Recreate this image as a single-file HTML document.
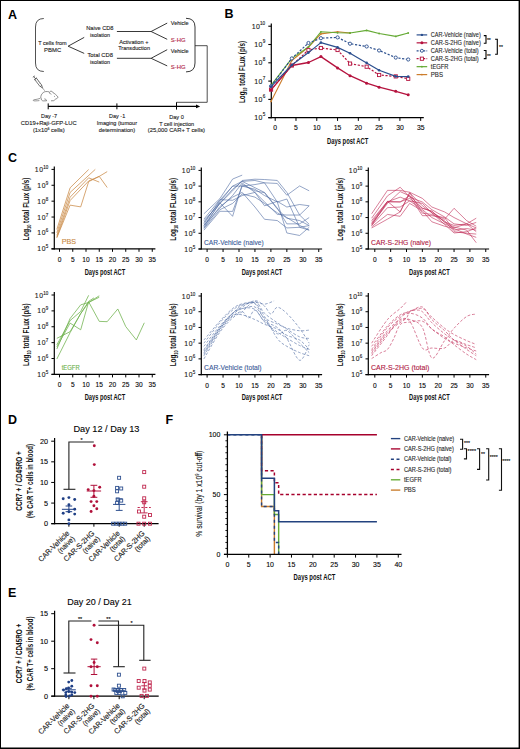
<!DOCTYPE html>
<html><head><meta charset="utf-8"><style>
html,body{margin:0;padding:0;background:#fff;}
svg{display:block;font-family:"Liberation Sans", sans-serif;}
</style></head><body>
<svg width="520" height="749" viewBox="0 0 520 749">
<rect width="520" height="749" fill="#fff"/>
<line x1="0.50" y1="0.00" x2="0.50" y2="749.00" stroke="#000" stroke-width="1"/>
<line x1="0.00" y1="0.50" x2="520.00" y2="0.50" stroke="#000" stroke-width="1"/>
<line x1="519.30" y1="0.00" x2="519.30" y2="749.00" stroke="#000" stroke-width="1.4"/>
<line x1="0.00" y1="748.30" x2="520.00" y2="748.30" stroke="#000" stroke-width="1.4"/>
<text x="8.00" y="18.70" font-size="12.5" fill="#000" font-weight="bold">A</text>
<text x="38.20" y="45.00" font-size="5.8" stroke="#222" stroke-width="0.12" fill="#222" textLength="28.50" lengthAdjust="spacingAndGlyphs">T cells from</text>
<text x="44.10" y="51.90" font-size="5.8" stroke="#222" stroke-width="0.12" fill="#222" textLength="17.10" lengthAdjust="spacingAndGlyphs">PBMC</text>
<text x="86.20" y="30.40" font-size="5.8" stroke="#222" stroke-width="0.12" fill="#222" textLength="27.30" lengthAdjust="spacingAndGlyphs">Naive CD8</text>
<text x="90.00" y="37.00" font-size="5.8" stroke="#222" stroke-width="0.12" fill="#222" textLength="20.00" lengthAdjust="spacingAndGlyphs">isolation</text>
<text x="87.40" y="56.80" font-size="5.8" stroke="#222" stroke-width="0.12" fill="#222" textLength="25.60" lengthAdjust="spacingAndGlyphs">Total CD8</text>
<text x="90.00" y="63.50" font-size="5.8" stroke="#222" stroke-width="0.12" fill="#222" textLength="20.00" lengthAdjust="spacingAndGlyphs">isolation</text>
<text x="119.20" y="43.50" font-size="5.8" stroke="#222" stroke-width="0.12" fill="#222" textLength="29.30" lengthAdjust="spacingAndGlyphs">Activation +</text>
<text x="118.20" y="50.00" font-size="5.8" stroke="#222" stroke-width="0.12" fill="#222" textLength="31.80" lengthAdjust="spacingAndGlyphs">Transduction</text>
<text x="170.80" y="25.10" font-size="5.8" stroke="#222" stroke-width="0.12" fill="#222" textLength="17.90" lengthAdjust="spacingAndGlyphs">Vehicle</text>
<text x="170.80" y="41.60" font-size="5.8" stroke="#b01e48" stroke-width="0.12" fill="#b01e48" textLength="14.80" lengthAdjust="spacingAndGlyphs">S-HG</text>
<text x="170.80" y="52.50" font-size="5.8" stroke="#222" stroke-width="0.12" fill="#222" textLength="17.90" lengthAdjust="spacingAndGlyphs">Vehicle</text>
<text x="170.80" y="69.30" font-size="5.8" stroke="#b01e48" stroke-width="0.12" fill="#b01e48" textLength="14.80" lengthAdjust="spacingAndGlyphs">S-HG</text>
<text x="49.00" y="118.20" font-size="5.8" stroke="#222" stroke-width="0.12" text-anchor="middle" fill="#222" textLength="16.10" lengthAdjust="spacingAndGlyphs">Day -7</text>
<text x="48.80" y="124.90" font-size="5.8" stroke="#222" stroke-width="0.12" text-anchor="middle" fill="#222" textLength="56.00" lengthAdjust="spacingAndGlyphs">CD19+Raji-GFP-LUC</text>
<text x="48.8" y="132.1" font-size="5.8" text-anchor="middle" fill="#222" textLength="31.8" lengthAdjust="spacingAndGlyphs" stroke="#222" stroke-width="0.12">(1x10<tspan font-size="3.6" dy="-2">6</tspan><tspan dy="2"> cells)</tspan></text>
<text x="117.10" y="118.20" font-size="5.8" stroke="#222" stroke-width="0.12" text-anchor="middle" fill="#222" textLength="16.20" lengthAdjust="spacingAndGlyphs">Day -1</text>
<text x="116.90" y="124.90" font-size="5.8" stroke="#222" stroke-width="0.12" text-anchor="middle" fill="#222" textLength="40.30" lengthAdjust="spacingAndGlyphs">Imaging (tumour</text>
<text x="117.00" y="132.10" font-size="5.8" stroke="#222" stroke-width="0.12" text-anchor="middle" fill="#222" textLength="36.30" lengthAdjust="spacingAndGlyphs">determination)</text>
<text x="176.50" y="118.60" font-size="5.8" stroke="#222" stroke-width="0.12" text-anchor="middle" fill="#222" textLength="14.60" lengthAdjust="spacingAndGlyphs">Day 0</text>
<text x="176.70" y="125.90" font-size="5.8" stroke="#222" stroke-width="0.12" text-anchor="middle" fill="#222" textLength="35.00" lengthAdjust="spacingAndGlyphs">T cell injection</text>
<text x="176.40" y="132.10" font-size="5.8" stroke="#222" stroke-width="0.12" text-anchor="middle" fill="#222" textLength="57.30" lengthAdjust="spacingAndGlyphs">(25,000 CAR+ T cells)</text>
<path d="M43.8,18.5 Q35.5,18.5 35.5,27 L35.5,63 Q35.5,71.5 43.8,71.5" stroke="#333" stroke-width="0.85" fill="none"/>
<path d="M186,18.3 Q195,18.3 195,27 L195,63 Q195,71.9 186,71.9" stroke="#222" stroke-width="0.9" fill="none"/>
<path d="M84.2,37.4 L68.1,46.2 L84.2,53.4" stroke="#222" stroke-width="0.9" fill="none"/>
<line x1="116.90" y1="31.50" x2="151.10" y2="31.50" stroke="#222" stroke-width="0.9"/>
<line x1="116.90" y1="58.30" x2="151.10" y2="58.30" stroke="#222" stroke-width="0.9"/>
<path d="M167.2,23.1 L151.1,31.5 L167.2,39.3" stroke="#222" stroke-width="0.9" fill="none"/>
<path d="M167.2,49.7 L151.1,58.3 L167.2,65.9" stroke="#222" stroke-width="0.9" fill="none"/>
<path d="M195,45.7 L207.2,45.7 L207.2,102.3 L176.5,102.3" stroke="#222" stroke-width="0.8" fill="none"/>
<line x1="48.20" y1="106.40" x2="197.00" y2="106.40" stroke="#000" stroke-width="1.2"/>
<path d="M196,104.6 L200.2,106.4 L196,108.2 Z" stroke="none" stroke-width="0" fill="#000"/>
<line x1="48.20" y1="103.40" x2="48.20" y2="109.30" stroke="#000" stroke-width="1.0"/>
<line x1="116.90" y1="103.40" x2="116.90" y2="109.30" stroke="#000" stroke-width="1.0"/>
<line x1="176.50" y1="102.30" x2="176.50" y2="109.60" stroke="#000" stroke-width="1.0"/>
<g transform="translate(33.6,76.3) rotate(52.5)"><rect x="3.2" y="-1.1" width="9" height="2.2" fill="none" stroke="#333" stroke-width="0.6"/><line x1="0" y1="0" x2="3.2" y2="0" stroke="#333" stroke-width="0.6"/><line x1="0.4" y1="-1.3" x2="0.4" y2="1.3" stroke="#333" stroke-width="0.6"/><line x1="3.2" y1="-1.6" x2="3.2" y2="1.6" stroke="#333" stroke-width="0.6"/><line x1="5" y1="-1.1" x2="5" y2="0" stroke="#333" stroke-width="0.35"/><line x1="7" y1="-1.1" x2="7" y2="0" stroke="#333" stroke-width="0.35"/><line x1="9" y1="-1.1" x2="9" y2="0" stroke="#333" stroke-width="0.35"/><path d="M12.2,-0.8 L14.6,-0.2 L14.6,0.2 L12.2,0.8" fill="none" stroke="#333" stroke-width="0.6"/><line x1="14.6" y1="0" x2="18.2" y2="0" stroke="#333" stroke-width="0.4"/></g>
<path d="M40.8,98.0 C40.6,95.8 41.6,93.8 43.2,92.6 C44.6,91.5 46.6,91.2 49.2,91.9" stroke="#444" stroke-width="0.6" fill="none"/>
<path d="M49.6,93.6 C49.2,92.2 50.0,91.1 51.2,91.2 C52.2,91.3 52.8,92.0 52.9,92.6" stroke="#444" stroke-width="0.6" fill="none"/>
<path d="M52.9,92.6 C54.6,93.4 56.6,95.2 57.9,96.9 C58.1,97.9 57.0,98.6 55.8,98.9 C55.0,99.6 54.4,100.4 53.6,100.7 L51.0,100.8" stroke="#444" stroke-width="0.6" fill="none"/>
<circle cx="54.6" cy="96.2" r="0.45" fill="#444"/>
<path d="M50.3,93.0 C50.6,93.8 51.2,94.3 51.3,94.8" stroke="#444" stroke-width="0.4" fill="none"/>
<path d="M41.3,98.2 C41.1,99.6 41.6,100.8 43.4,100.9 L46.6,100.8 C46.4,99.6 45.4,98.8 44.3,98.9" stroke="#444" stroke-width="0.6" fill="none"/>
<path d="M40.4,98.3 C38.6,99.3 35.6,99.3 33.8,99.8 C32.6,100.3 33.4,101.0 35.2,100.9 C36.8,100.8 38.0,100.8 39.4,100.6" stroke="#444" stroke-width="0.55" fill="none"/>
<text x="224.60" y="18.40" font-size="12.5" fill="#000" font-weight="bold">B</text>
<line x1="271.30" y1="23.50" x2="271.30" y2="118.20" stroke="#000" stroke-width="1.2"/>
<line x1="268.30" y1="117.60" x2="423.80" y2="117.60" stroke="#000" stroke-width="1.2"/>
<line x1="268.30" y1="117.70" x2="271.30" y2="117.70" stroke="#000" stroke-width="1.1"/>
<text x="265.20" y="120.10" font-size="7.0" text-anchor="end" fill="#1a1a1a" stroke="#1a1a1a" stroke-width="0.12">1<tspan dx="0.4">0</tspan><tspan font-size="4.6" dx="0.2" dy="-3.8">5</tspan></text>
<line x1="268.30" y1="99.40" x2="271.30" y2="99.40" stroke="#000" stroke-width="1.1"/>
<text x="265.20" y="101.80" font-size="7.0" text-anchor="end" fill="#1a1a1a" stroke="#1a1a1a" stroke-width="0.12">1<tspan dx="0.4">0</tspan><tspan font-size="4.6" dx="0.2" dy="-3.8">6</tspan></text>
<line x1="268.30" y1="81.10" x2="271.30" y2="81.10" stroke="#000" stroke-width="1.1"/>
<text x="265.20" y="83.50" font-size="7.0" text-anchor="end" fill="#1a1a1a" stroke="#1a1a1a" stroke-width="0.12">1<tspan dx="0.4">0</tspan><tspan font-size="4.6" dx="0.2" dy="-3.8">7</tspan></text>
<line x1="268.30" y1="62.80" x2="271.30" y2="62.80" stroke="#000" stroke-width="1.1"/>
<text x="265.20" y="65.20" font-size="7.0" text-anchor="end" fill="#1a1a1a" stroke="#1a1a1a" stroke-width="0.12">1<tspan dx="0.4">0</tspan><tspan font-size="4.6" dx="0.2" dy="-3.8">8</tspan></text>
<line x1="268.30" y1="44.50" x2="271.30" y2="44.50" stroke="#000" stroke-width="1.1"/>
<text x="265.20" y="46.90" font-size="7.0" text-anchor="end" fill="#1a1a1a" stroke="#1a1a1a" stroke-width="0.12">1<tspan dx="0.4">0</tspan><tspan font-size="4.6" dx="0.2" dy="-3.8">9</tspan></text>
<line x1="268.30" y1="26.20" x2="271.30" y2="26.20" stroke="#000" stroke-width="1.1"/>
<text x="265.20" y="28.60" font-size="7.0" text-anchor="end" fill="#1a1a1a" stroke="#1a1a1a" stroke-width="0.12">1<tspan dx="0.4">0</tspan><tspan font-size="4.6" dx="0.2" dy="-3.8">10</tspan></text>
<line x1="275.20" y1="117.60" x2="275.20" y2="120.90" stroke="#000" stroke-width="1.0"/>
<text x="275.20" y="130.30" font-size="6.8" stroke="#1a1a1a" stroke-width="0.12" text-anchor="middle">0</text>
<line x1="295.99" y1="117.60" x2="295.99" y2="120.90" stroke="#000" stroke-width="1.0"/>
<text x="295.99" y="130.30" font-size="6.8" stroke="#1a1a1a" stroke-width="0.12" text-anchor="middle">5</text>
<line x1="316.77" y1="117.60" x2="316.77" y2="120.90" stroke="#000" stroke-width="1.0"/>
<text x="316.77" y="130.30" font-size="6.8" stroke="#1a1a1a" stroke-width="0.12" text-anchor="middle">10</text>
<line x1="337.56" y1="117.60" x2="337.56" y2="120.90" stroke="#000" stroke-width="1.0"/>
<text x="337.56" y="130.30" font-size="6.8" stroke="#1a1a1a" stroke-width="0.12" text-anchor="middle">15</text>
<line x1="358.34" y1="117.60" x2="358.34" y2="120.90" stroke="#000" stroke-width="1.0"/>
<text x="358.34" y="130.30" font-size="6.8" stroke="#1a1a1a" stroke-width="0.12" text-anchor="middle">20</text>
<line x1="379.12" y1="117.60" x2="379.12" y2="120.90" stroke="#000" stroke-width="1.0"/>
<text x="379.12" y="130.30" font-size="6.8" stroke="#1a1a1a" stroke-width="0.12" text-anchor="middle">25</text>
<line x1="399.91" y1="117.60" x2="399.91" y2="120.90" stroke="#000" stroke-width="1.0"/>
<text x="399.91" y="130.30" font-size="6.8" stroke="#1a1a1a" stroke-width="0.12" text-anchor="middle">30</text>
<line x1="420.69" y1="117.60" x2="420.69" y2="120.90" stroke="#000" stroke-width="1.0"/>
<text x="420.69" y="130.30" font-size="6.8" stroke="#1a1a1a" stroke-width="0.12" text-anchor="middle">35</text>
<text x="347.70" y="143.50" font-size="9.3" text-anchor="middle" fill="#111" font-weight="bold" textLength="41.30" lengthAdjust="spacingAndGlyphs">Days post ACT</text>
<text transform="translate(244.8,72) rotate(-90)" font-size="8.8" font-weight="bold" text-anchor="middle" fill="#111" textLength="62" lengthAdjust="spacingAndGlyphs">Log<tspan font-size="5" dy="2">10</tspan><tspan dy="-2"> total FLux (p/s)</tspan></text>
<path d="M271.04,101.40 L291.83,60.50 L308.46,47.00 L320.93,33.90 L337.56,31.80 L350.03,33.00" stroke="#cc7d2c" stroke-width="1.1" fill="none" stroke-linejoin="round"/>
<circle cx="271.04" cy="101.40" r="0.9" fill="#cc7d2c"/>
<circle cx="291.83" cy="60.50" r="0.9" fill="#cc7d2c"/>
<circle cx="308.46" cy="47.00" r="0.9" fill="#cc7d2c"/>
<circle cx="320.93" cy="33.90" r="0.9" fill="#cc7d2c"/>
<circle cx="337.56" cy="31.80" r="0.9" fill="#cc7d2c"/>
<circle cx="350.03" cy="33.00" r="0.9" fill="#cc7d2c"/>
<path d="M271.04,85.30 L291.83,58.40 L308.46,47.00 L320.93,31.80 L337.56,32.80 L350.03,33.00 L366.65,30.40 L379.12,33.50 L395.75,36.40 L408.22,33.00" stroke="#65aa35" stroke-width="1.1" fill="none" stroke-linejoin="round"/>
<circle cx="271.04" cy="85.30" r="0.9" fill="#65aa35"/>
<circle cx="291.83" cy="58.40" r="0.9" fill="#65aa35"/>
<circle cx="308.46" cy="47.00" r="0.9" fill="#65aa35"/>
<circle cx="320.93" cy="31.80" r="0.9" fill="#65aa35"/>
<circle cx="337.56" cy="32.80" r="0.9" fill="#65aa35"/>
<circle cx="350.03" cy="33.00" r="0.9" fill="#65aa35"/>
<circle cx="366.65" cy="30.40" r="0.9" fill="#65aa35"/>
<circle cx="379.12" cy="33.50" r="0.9" fill="#65aa35"/>
<circle cx="395.75" cy="36.40" r="0.9" fill="#65aa35"/>
<circle cx="408.22" cy="33.00" r="0.9" fill="#65aa35"/>
<path d="M271.04,89.60 L291.83,65.50 L308.46,50.00 L320.93,48.00 L337.56,50.00 L350.03,63.60 L366.65,66.70 L379.12,75.00 L395.75,76.40 L408.22,78.80" stroke="#b5123e" stroke-width="1.2" fill="none" stroke-dasharray="2.2,1.6" stroke-linejoin="round"/>
<rect x="269.44" y="88.00" width="3.2" height="3.2" fill="#fff" stroke="#b5123e" stroke-width="0.9"/>
<rect x="290.23" y="63.90" width="3.2" height="3.2" fill="#fff" stroke="#b5123e" stroke-width="0.9"/>
<rect x="306.86" y="48.40" width="3.2" height="3.2" fill="#fff" stroke="#b5123e" stroke-width="0.9"/>
<rect x="319.33" y="46.40" width="3.2" height="3.2" fill="#fff" stroke="#b5123e" stroke-width="0.9"/>
<rect x="335.95" y="48.40" width="3.2" height="3.2" fill="#fff" stroke="#b5123e" stroke-width="0.9"/>
<rect x="348.43" y="62.00" width="3.2" height="3.2" fill="#fff" stroke="#b5123e" stroke-width="0.9"/>
<rect x="365.05" y="65.10" width="3.2" height="3.2" fill="#fff" stroke="#b5123e" stroke-width="0.9"/>
<rect x="377.52" y="73.40" width="3.2" height="3.2" fill="#fff" stroke="#b5123e" stroke-width="0.9"/>
<rect x="394.15" y="74.80" width="3.2" height="3.2" fill="#fff" stroke="#b5123e" stroke-width="0.9"/>
<rect x="406.62" y="77.20" width="3.2" height="3.2" fill="#fff" stroke="#b5123e" stroke-width="0.9"/>
<path d="M271.04,86.20 L291.83,58.40 L308.46,43.00 L320.93,38.20 L337.56,37.40 L350.03,43.70 L366.65,46.50 L379.12,50.50 L395.75,57.60 L408.22,59.50" stroke="#2b4f8e" stroke-width="1.2" fill="none" stroke-dasharray="2.2,1.6" stroke-linejoin="round"/>
<circle cx="271.04" cy="86.20" r="1.6" fill="#fff" stroke="#2b4f8e" stroke-width="0.9"/>
<circle cx="291.83" cy="58.40" r="1.6" fill="#fff" stroke="#2b4f8e" stroke-width="0.9"/>
<circle cx="308.46" cy="43.00" r="1.6" fill="#fff" stroke="#2b4f8e" stroke-width="0.9"/>
<circle cx="320.93" cy="38.20" r="1.6" fill="#fff" stroke="#2b4f8e" stroke-width="0.9"/>
<circle cx="337.56" cy="37.40" r="1.6" fill="#fff" stroke="#2b4f8e" stroke-width="0.9"/>
<circle cx="350.03" cy="43.70" r="1.6" fill="#fff" stroke="#2b4f8e" stroke-width="0.9"/>
<circle cx="366.65" cy="46.50" r="1.6" fill="#fff" stroke="#2b4f8e" stroke-width="0.9"/>
<circle cx="379.12" cy="50.50" r="1.6" fill="#fff" stroke="#2b4f8e" stroke-width="0.9"/>
<circle cx="395.75" cy="57.60" r="1.6" fill="#fff" stroke="#2b4f8e" stroke-width="0.9"/>
<circle cx="408.22" cy="59.50" r="1.6" fill="#fff" stroke="#2b4f8e" stroke-width="0.9"/>
<path d="M271.04,89.80 L291.83,65.50 L308.46,62.50 L320.93,56.60 L337.56,67.90 L350.03,75.70 L366.65,83.20 L379.12,87.20 L395.75,91.30 L408.22,94.80" stroke="#b5123e" stroke-width="1.3" fill="none" stroke-linejoin="round"/>
<circle cx="271.04" cy="89.80" r="1.5" fill="#b5123e"/>
<circle cx="291.83" cy="65.50" r="1.5" fill="#b5123e"/>
<circle cx="308.46" cy="62.50" r="1.5" fill="#b5123e"/>
<circle cx="320.93" cy="56.60" r="1.5" fill="#b5123e"/>
<circle cx="337.56" cy="67.90" r="1.5" fill="#b5123e"/>
<circle cx="350.03" cy="75.70" r="1.5" fill="#b5123e"/>
<circle cx="366.65" cy="83.20" r="1.5" fill="#b5123e"/>
<circle cx="379.12" cy="87.20" r="1.5" fill="#b5123e"/>
<circle cx="395.75" cy="91.30" r="1.5" fill="#b5123e"/>
<circle cx="408.22" cy="94.80" r="1.5" fill="#b5123e"/>
<path d="M271.04,86.60 L291.83,65.00 L308.46,52.60 L320.93,42.60 L337.56,47.40 L350.03,53.20 L366.65,62.90 L379.12,70.20 L395.75,76.40 L408.22,76.60" stroke="#2b4f8e" stroke-width="1.2" fill="none" stroke-linejoin="round"/>
<circle cx="271.04" cy="86.60" r="1.3" fill="#2b4f8e"/>
<circle cx="291.83" cy="65.00" r="1.3" fill="#2b4f8e"/>
<circle cx="308.46" cy="52.60" r="1.3" fill="#2b4f8e"/>
<circle cx="320.93" cy="42.60" r="1.3" fill="#2b4f8e"/>
<circle cx="337.56" cy="47.40" r="1.3" fill="#2b4f8e"/>
<circle cx="350.03" cy="53.20" r="1.3" fill="#2b4f8e"/>
<circle cx="366.65" cy="62.90" r="1.3" fill="#2b4f8e"/>
<circle cx="379.12" cy="70.20" r="1.3" fill="#2b4f8e"/>
<circle cx="395.75" cy="76.40" r="1.3" fill="#2b4f8e"/>
<circle cx="408.22" cy="76.60" r="1.3" fill="#2b4f8e"/>
<line x1="416.60" y1="34.90" x2="427.20" y2="34.90" stroke="#2b4f8e" stroke-width="1.2"/>
<circle cx="421.9" cy="34.9" r="1.2" fill="#2b4f8e"/>
<text x="430.80" y="37.30" font-size="6.7" stroke="#2a2a2a" stroke-width="0.12" fill="#2a2a2a" textLength="50.00" lengthAdjust="spacingAndGlyphs">CAR-Vehicle (naive)</text>
<line x1="416.60" y1="42.84" x2="427.20" y2="42.84" stroke="#b5123e" stroke-width="1.2"/>
<circle cx="421.9" cy="42.839999999999996" r="1.5" fill="#b5123e"/>
<text x="430.80" y="45.24" font-size="6.7" stroke="#2a2a2a" stroke-width="0.12" fill="#2a2a2a" textLength="50.00" lengthAdjust="spacingAndGlyphs">CAR-S-2HG (naive)</text>
<line x1="416.60" y1="50.78" x2="427.20" y2="50.78" stroke="#2b4f8e" stroke-width="1.2" stroke-dasharray="2,1.3"/>
<circle cx="421.9" cy="50.78" r="1.5" fill="#fff" stroke="#2b4f8e" stroke-width="0.9"/>
<text x="430.80" y="53.18" font-size="6.7" stroke="#2a2a2a" stroke-width="0.12" fill="#2a2a2a" textLength="47.90" lengthAdjust="spacingAndGlyphs">CAR-Vehicle (total)</text>
<line x1="416.60" y1="58.72" x2="427.20" y2="58.72" stroke="#b5123e" stroke-width="1.2" stroke-dasharray="2,1.3"/>
<rect x="420.3" y="57.12" width="3.2" height="3.2" fill="#fff" stroke="#b5123e" stroke-width="0.9"/>
<text x="430.80" y="61.12" font-size="6.7" stroke="#2a2a2a" stroke-width="0.12" fill="#2a2a2a" textLength="47.90" lengthAdjust="spacingAndGlyphs">CAR-S-2HG (total)</text>
<line x1="416.60" y1="66.66" x2="427.20" y2="66.66" stroke="#65aa35" stroke-width="1.2"/>
<circle cx="421.9" cy="66.66" r="0.9" fill="#65aa35"/>
<text x="430.80" y="69.06" font-size="6.7" stroke="#2a2a2a" stroke-width="0.12" fill="#2a2a2a" textLength="17.60" lengthAdjust="spacingAndGlyphs">tEGFR</text>
<line x1="416.60" y1="74.60" x2="427.20" y2="74.60" stroke="#cc7d2c" stroke-width="1.2"/>
<circle cx="421.9" cy="74.6" r="0.9" fill="#cc7d2c"/>
<text x="430.80" y="77.00" font-size="6.7" stroke="#2a2a2a" stroke-width="0.12" fill="#2a2a2a" textLength="12.20" lengthAdjust="spacingAndGlyphs">PBS</text>
<path d="M483.80,35.60 L486.00,35.60 L486.00,43.20 L483.80,43.20" stroke="#000" stroke-width="1.1" fill="none"/>
<path d="M483.80,50.50 L486.00,50.50 L486.00,58.60 L483.80,58.60" stroke="#000" stroke-width="1.1" fill="none"/>
<path d="M495.10,39.20 L497.30,39.20 L497.30,54.30 L495.10,54.30" stroke="#000" stroke-width="1.1" fill="none"/>
<text x="486.90" y="42.10" font-size="5.5" stroke="#000" stroke-width="0.12" fill="#000" textLength="3.90" lengthAdjust="spacingAndGlyphs">**</text>
<text x="486.90" y="57.50" font-size="5.5" stroke="#000" stroke-width="0.12" fill="#000" textLength="3.90" lengthAdjust="spacingAndGlyphs">**</text>
<text x="499.00" y="49.30" font-size="5.5" stroke="#000" stroke-width="0.12" fill="#000" textLength="3.90" lengthAdjust="spacingAndGlyphs">**</text>
<text x="8.00" y="162.30" font-size="12.5" fill="#000" font-weight="bold">C</text>
<path d="M56.85,229.43 L70.10,187.82 L88.65,169.56" stroke="#c98a45" stroke-width="0.75" fill="none" stroke-linejoin="round"/>
<path d="M56.85,232.76 L70.10,192.43 L95.28,169.40" stroke="#c98a45" stroke-width="0.75" fill="none" stroke-linejoin="round"/>
<path d="M56.85,235.46 L70.10,197.19 L88.65,177.82 L99.25,182.10" stroke="#c98a45" stroke-width="0.75" fill="none" stroke-linejoin="round"/>
<path d="M56.85,237.37 L70.10,200.52 L88.65,180.99 L99.25,176.39 L107.20,171.62" stroke="#c98a45" stroke-width="0.75" fill="none" stroke-linejoin="round"/>
<path d="M56.85,237.68 L70.10,205.13 L80.70,206.88 L88.65,181.63 L99.25,176.39 L107.20,187.50" stroke="#c98a45" stroke-width="0.75" fill="none" stroke-linejoin="round"/>
<line x1="54.30" y1="166.50" x2="54.30" y2="249.40" stroke="#000" stroke-width="1.2"/>
<line x1="51.50" y1="248.80" x2="155.40" y2="248.80" stroke="#000" stroke-width="1.2"/>
<line x1="51.50" y1="248.80" x2="54.30" y2="248.80" stroke="#000" stroke-width="1.0"/>
<text x="48.30" y="251.30" font-size="6.8" text-anchor="end" fill="#1a1a1a" stroke="#1a1a1a" stroke-width="0.12">1<tspan dx="0.7">0</tspan><tspan font-size="4.5" dx="0.2" dy="-3.0">5</tspan></text>
<line x1="51.50" y1="232.92" x2="54.30" y2="232.92" stroke="#000" stroke-width="1.0"/>
<text x="48.30" y="235.42" font-size="6.8" text-anchor="end" fill="#1a1a1a" stroke="#1a1a1a" stroke-width="0.12">1<tspan dx="0.7">0</tspan><tspan font-size="4.5" dx="0.2" dy="-3.0">6</tspan></text>
<line x1="51.50" y1="217.04" x2="54.30" y2="217.04" stroke="#000" stroke-width="1.0"/>
<text x="48.30" y="219.54" font-size="6.8" text-anchor="end" fill="#1a1a1a" stroke="#1a1a1a" stroke-width="0.12">1<tspan dx="0.7">0</tspan><tspan font-size="4.5" dx="0.2" dy="-3.0">7</tspan></text>
<line x1="51.50" y1="201.16" x2="54.30" y2="201.16" stroke="#000" stroke-width="1.0"/>
<text x="48.30" y="203.66" font-size="6.8" text-anchor="end" fill="#1a1a1a" stroke="#1a1a1a" stroke-width="0.12">1<tspan dx="0.7">0</tspan><tspan font-size="4.5" dx="0.2" dy="-3.0">8</tspan></text>
<line x1="51.50" y1="185.28" x2="54.30" y2="185.28" stroke="#000" stroke-width="1.0"/>
<text x="48.30" y="187.78" font-size="6.8" text-anchor="end" fill="#1a1a1a" stroke="#1a1a1a" stroke-width="0.12">1<tspan dx="0.7">0</tspan><tspan font-size="4.5" dx="0.2" dy="-3.0">9</tspan></text>
<line x1="51.50" y1="169.40" x2="54.30" y2="169.40" stroke="#000" stroke-width="1.0"/>
<text x="48.30" y="171.90" font-size="6.8" text-anchor="end" fill="#1a1a1a" stroke="#1a1a1a" stroke-width="0.12">1<tspan dx="0.7">0</tspan><tspan font-size="4.5" dx="0.2" dy="-3.0">10</tspan></text>
<line x1="59.50" y1="248.80" x2="59.50" y2="251.80" stroke="#000" stroke-width="1.0"/>
<text x="59.50" y="261.80" font-size="6.6" stroke="#1a1a1a" stroke-width="0.12" text-anchor="middle">0</text>
<line x1="72.75" y1="248.80" x2="72.75" y2="251.80" stroke="#000" stroke-width="1.0"/>
<text x="72.75" y="261.80" font-size="6.6" stroke="#1a1a1a" stroke-width="0.12" text-anchor="middle">5</text>
<line x1="86.00" y1="248.80" x2="86.00" y2="251.80" stroke="#000" stroke-width="1.0"/>
<text x="86.00" y="261.80" font-size="6.6" stroke="#1a1a1a" stroke-width="0.12" text-anchor="middle">10</text>
<line x1="99.25" y1="248.80" x2="99.25" y2="251.80" stroke="#000" stroke-width="1.0"/>
<text x="99.25" y="261.80" font-size="6.6" stroke="#1a1a1a" stroke-width="0.12" text-anchor="middle">15</text>
<line x1="112.50" y1="248.80" x2="112.50" y2="251.80" stroke="#000" stroke-width="1.0"/>
<text x="112.50" y="261.80" font-size="6.6" stroke="#1a1a1a" stroke-width="0.12" text-anchor="middle">20</text>
<line x1="125.75" y1="248.80" x2="125.75" y2="251.80" stroke="#000" stroke-width="1.0"/>
<text x="125.75" y="261.80" font-size="6.6" stroke="#1a1a1a" stroke-width="0.12" text-anchor="middle">25</text>
<line x1="139.00" y1="248.80" x2="139.00" y2="251.80" stroke="#000" stroke-width="1.0"/>
<text x="139.00" y="261.80" font-size="6.6" stroke="#1a1a1a" stroke-width="0.12" text-anchor="middle">30</text>
<line x1="152.25" y1="248.80" x2="152.25" y2="251.80" stroke="#000" stroke-width="1.0"/>
<text x="152.25" y="261.80" font-size="6.6" stroke="#1a1a1a" stroke-width="0.12" text-anchor="middle">35</text>
<text x="104.97" y="274.50" font-size="8.8" text-anchor="middle" fill="#111" font-weight="bold" textLength="40.60" lengthAdjust="spacingAndGlyphs">Days post ACT</text>
<text transform="translate(28.70,209.10) rotate(-90)" font-size="8.4" font-weight="bold" text-anchor="middle" fill="#111" textLength="62.8" lengthAdjust="spacingAndGlyphs">Log<tspan font-size="5" dy="2">10</tspan><tspan dy="-2"> total FLux (p/s)</tspan></text>
<text x="61.70" y="244.40" font-size="7.1" stroke="#c98a45" stroke-width="0.12" fill="#c98a45" textLength="14.40" lengthAdjust="spacingAndGlyphs">PBS</text>
<path d="M203.91,213.79 L219.86,198.70 L232.62,179.05 L242.19,175.12" stroke="#4d69a1" stroke-width="0.6" fill="none" stroke-linejoin="round"/>
<path d="M203.91,225.42 L219.86,203.41 L232.62,190.84 L242.19,180.46 L254.95,179.20 L264.52,179.52 L277.28,180.46 L286.85,192.41 L299.61,215.04 L309.18,224.32" stroke="#4d69a1" stroke-width="0.6" fill="none" stroke-linejoin="round"/>
<path d="M203.91,222.28 L219.86,201.84 L232.62,186.12 L242.19,181.40 L254.95,180.46 L264.52,182.82 L277.28,183.45 L286.85,195.24 L299.61,185.96 L309.18,190.84" stroke="#4d69a1" stroke-width="0.6" fill="none" stroke-linejoin="round"/>
<path d="M203.91,226.99 L219.86,202.78 L232.62,216.30 L242.19,184.55 L254.95,190.84 L264.52,192.72 L277.28,208.91 L286.85,218.19 L299.61,220.55 L309.18,225.58" stroke="#4d69a1" stroke-width="0.6" fill="none" stroke-linejoin="round"/>
<path d="M203.91,227.94 L219.86,206.56 L232.62,197.12 L242.19,192.41 L254.95,207.03 L264.52,219.29 L277.28,220.55 L286.85,227.94 L299.61,227.31 L309.18,225.58" stroke="#4d69a1" stroke-width="0.6" fill="none" stroke-linejoin="round"/>
<path d="M203.91,223.85 L219.86,200.27 L232.62,186.12 L242.19,186.12 L254.95,184.55 L264.52,182.82 L277.28,202.00 L286.85,199.01 L299.61,227.31 L309.18,230.14" stroke="#4d69a1" stroke-width="0.6" fill="none" stroke-linejoin="round"/>
<path d="M203.91,219.13 L219.86,199.64 L232.62,200.27 L242.19,195.55 L254.95,192.41 L264.52,205.77 L277.28,201.37 L286.85,207.03 L299.61,204.51 L309.18,205.77" stroke="#4d69a1" stroke-width="0.6" fill="none" stroke-linejoin="round"/>
<path d="M203.91,230.14 L219.86,211.27 L232.62,211.43 L242.19,186.12 L254.95,189.26 L264.52,195.55 L277.28,201.84 L286.85,232.97 L299.61,235.48 L309.18,227.31" stroke="#4d69a1" stroke-width="0.6" fill="none" stroke-linejoin="round"/>
<path d="M203.91,225.42 L219.86,208.13 L232.62,195.55 L242.19,182.98 L254.95,192.41 L264.52,201.84 L277.28,214.42 L286.85,215.04 L299.61,215.04 L309.18,205.77" stroke="#4d69a1" stroke-width="0.6" fill="none" stroke-linejoin="round"/>
<path d="M203.91,220.70 L219.86,203.41 L232.62,189.26 L242.19,181.40 L254.95,187.69 L264.52,192.41 L277.28,208.13 L286.85,223.85 L299.61,223.85 L309.18,217.56" stroke="#4d69a1" stroke-width="0.6" fill="none" stroke-linejoin="round"/>
<path d="M203.91,228.56 L219.86,209.70 L232.62,203.41 L242.19,193.98 L254.95,197.12 L264.52,203.41 L277.28,212.84 L286.85,217.56 L299.61,225.42 L309.18,230.14" stroke="#4d69a1" stroke-width="0.6" fill="none" stroke-linejoin="round"/>
<line x1="201.30" y1="167.50" x2="201.30" y2="249.60" stroke="#000" stroke-width="1.2"/>
<line x1="198.50" y1="249.00" x2="322.10" y2="249.00" stroke="#000" stroke-width="1.2"/>
<line x1="198.50" y1="249.00" x2="201.30" y2="249.00" stroke="#000" stroke-width="1.0"/>
<text x="195.30" y="251.50" font-size="6.8" text-anchor="end" fill="#1a1a1a" stroke="#1a1a1a" stroke-width="0.12">1<tspan dx="0.7">0</tspan><tspan font-size="4.5" dx="0.2" dy="-3.0">5</tspan></text>
<line x1="198.50" y1="233.28" x2="201.30" y2="233.28" stroke="#000" stroke-width="1.0"/>
<text x="195.30" y="235.78" font-size="6.8" text-anchor="end" fill="#1a1a1a" stroke="#1a1a1a" stroke-width="0.12">1<tspan dx="0.7">0</tspan><tspan font-size="4.5" dx="0.2" dy="-3.0">6</tspan></text>
<line x1="198.50" y1="217.56" x2="201.30" y2="217.56" stroke="#000" stroke-width="1.0"/>
<text x="195.30" y="220.06" font-size="6.8" text-anchor="end" fill="#1a1a1a" stroke="#1a1a1a" stroke-width="0.12">1<tspan dx="0.7">0</tspan><tspan font-size="4.5" dx="0.2" dy="-3.0">7</tspan></text>
<line x1="198.50" y1="201.84" x2="201.30" y2="201.84" stroke="#000" stroke-width="1.0"/>
<text x="195.30" y="204.34" font-size="6.8" text-anchor="end" fill="#1a1a1a" stroke="#1a1a1a" stroke-width="0.12">1<tspan dx="0.7">0</tspan><tspan font-size="4.5" dx="0.2" dy="-3.0">8</tspan></text>
<line x1="198.50" y1="186.12" x2="201.30" y2="186.12" stroke="#000" stroke-width="1.0"/>
<text x="195.30" y="188.62" font-size="6.8" text-anchor="end" fill="#1a1a1a" stroke="#1a1a1a" stroke-width="0.12">1<tspan dx="0.7">0</tspan><tspan font-size="4.5" dx="0.2" dy="-3.0">9</tspan></text>
<line x1="198.50" y1="170.40" x2="201.30" y2="170.40" stroke="#000" stroke-width="1.0"/>
<text x="195.30" y="172.90" font-size="6.8" text-anchor="end" fill="#1a1a1a" stroke="#1a1a1a" stroke-width="0.12">1<tspan dx="0.7">0</tspan><tspan font-size="4.5" dx="0.2" dy="-3.0">10</tspan></text>
<line x1="207.10" y1="249.00" x2="207.10" y2="252.00" stroke="#000" stroke-width="1.0"/>
<text x="207.10" y="262.00" font-size="6.6" stroke="#1a1a1a" stroke-width="0.12" text-anchor="middle">0</text>
<line x1="223.05" y1="249.00" x2="223.05" y2="252.00" stroke="#000" stroke-width="1.0"/>
<text x="223.05" y="262.00" font-size="6.6" stroke="#1a1a1a" stroke-width="0.12" text-anchor="middle">5</text>
<line x1="239.00" y1="249.00" x2="239.00" y2="252.00" stroke="#000" stroke-width="1.0"/>
<text x="239.00" y="262.00" font-size="6.6" stroke="#1a1a1a" stroke-width="0.12" text-anchor="middle">10</text>
<line x1="254.95" y1="249.00" x2="254.95" y2="252.00" stroke="#000" stroke-width="1.0"/>
<text x="254.95" y="262.00" font-size="6.6" stroke="#1a1a1a" stroke-width="0.12" text-anchor="middle">15</text>
<line x1="270.90" y1="249.00" x2="270.90" y2="252.00" stroke="#000" stroke-width="1.0"/>
<text x="270.90" y="262.00" font-size="6.6" stroke="#1a1a1a" stroke-width="0.12" text-anchor="middle">20</text>
<line x1="286.85" y1="249.00" x2="286.85" y2="252.00" stroke="#000" stroke-width="1.0"/>
<text x="286.85" y="262.00" font-size="6.6" stroke="#1a1a1a" stroke-width="0.12" text-anchor="middle">25</text>
<line x1="302.80" y1="249.00" x2="302.80" y2="252.00" stroke="#000" stroke-width="1.0"/>
<text x="302.80" y="262.00" font-size="6.6" stroke="#1a1a1a" stroke-width="0.12" text-anchor="middle">30</text>
<line x1="318.75" y1="249.00" x2="318.75" y2="252.00" stroke="#000" stroke-width="1.0"/>
<text x="318.75" y="262.00" font-size="6.6" stroke="#1a1a1a" stroke-width="0.12" text-anchor="middle">35</text>
<text x="262.03" y="274.70" font-size="8.8" text-anchor="middle" fill="#111" font-weight="bold" textLength="40.60" lengthAdjust="spacingAndGlyphs">Days post ACT</text>
<text transform="translate(175.70,209.30) rotate(-90)" font-size="8.4" font-weight="bold" text-anchor="middle" fill="#111" textLength="62.8" lengthAdjust="spacingAndGlyphs">Log<tspan font-size="5" dy="2">10</tspan><tspan dy="-2"> total FLux (p/s)</tspan></text>
<text x="204.00" y="244.60" font-size="7.1" stroke="#3d5c99" stroke-width="0.12" fill="#3d5c99" textLength="59.60" lengthAdjust="spacingAndGlyphs">CAR-Vehicle (naive)</text>
<path d="M371.63,213.79 L387.48,190.36 L400.16,190.36 L409.67,192.25 L422.35,198.38 L431.86,207.03 L444.54,211.90 L454.05,217.56 L466.73,223.85 L476.24,227.94" stroke="#bf2a55" stroke-width="0.6" fill="none" stroke-linejoin="round"/>
<path d="M371.63,218.19 L387.48,195.87 L400.16,187.22 L409.67,197.12 L422.35,202.00 L431.86,209.70 L444.54,216.93 L454.05,223.85 L466.73,225.42 L476.24,222.43" stroke="#bf2a55" stroke-width="0.6" fill="none" stroke-linejoin="round"/>
<path d="M371.63,220.55 L387.48,201.37 L400.16,211.90 L409.67,192.72 L422.35,205.77 L431.86,212.84 L444.54,219.29 L454.05,208.29 L466.73,220.70 L476.24,226.21" stroke="#bf2a55" stroke-width="0.6" fill="none" stroke-linejoin="round"/>
<path d="M371.63,222.43 L387.48,201.37 L400.16,201.84 L409.67,198.38 L422.35,208.29 L431.86,211.27 L444.54,221.80 L454.05,225.42 L466.73,223.85 L476.24,218.19" stroke="#bf2a55" stroke-width="0.6" fill="none" stroke-linejoin="round"/>
<path d="M371.63,224.32 L387.48,203.41 L400.16,191.62 L409.67,195.87 L422.35,215.67 L431.86,215.67 L444.54,217.56 L454.05,230.14 L466.73,228.56 L476.24,230.14" stroke="#bf2a55" stroke-width="0.6" fill="none" stroke-linejoin="round"/>
<path d="M371.63,225.58 L387.48,207.66 L400.16,207.03 L409.67,200.90 L422.35,203.41 L431.86,212.84 L444.54,224.32 L454.05,232.97 L466.73,231.71 L476.24,227.94" stroke="#bf2a55" stroke-width="0.6" fill="none" stroke-linejoin="round"/>
<path d="M371.63,226.83 L387.48,214.42 L400.16,216.30 L409.67,203.41 L422.35,210.80 L431.86,221.80 L444.54,226.21 L454.05,228.56 L466.73,234.07 L476.24,237.37" stroke="#bf2a55" stroke-width="0.6" fill="none" stroke-linejoin="round"/>
<path d="M371.63,227.94 L387.48,219.13 L400.16,211.90 L409.67,192.72 L422.35,213.16 L431.86,214.42 L444.54,220.70 L454.05,231.71 L466.73,233.28 L476.24,234.07" stroke="#bf2a55" stroke-width="0.6" fill="none" stroke-linejoin="round"/>
<path d="M371.63,225.42 L387.48,201.84 L400.16,197.12 L409.67,200.90 L422.35,209.54 L431.86,217.56 L444.54,223.85 L454.05,227.78 L466.73,223.85 L476.24,231.71" stroke="#bf2a55" stroke-width="0.6" fill="none" stroke-linejoin="round"/>
<path d="M371.63,223.85 L387.48,202.00 L400.16,202.00 L409.67,195.55 L422.35,208.13 L431.86,211.27 L444.54,222.28 L454.05,226.99 L466.73,230.14 L476.24,242.71" stroke="#bf2a55" stroke-width="0.6" fill="none" stroke-linejoin="round"/>
<line x1="368.30" y1="167.50" x2="368.30" y2="249.60" stroke="#000" stroke-width="1.2"/>
<line x1="365.50" y1="249.00" x2="489.10" y2="249.00" stroke="#000" stroke-width="1.2"/>
<line x1="365.50" y1="249.00" x2="368.30" y2="249.00" stroke="#000" stroke-width="1.0"/>
<text x="362.30" y="251.50" font-size="6.8" text-anchor="end" fill="#1a1a1a" stroke="#1a1a1a" stroke-width="0.12">1<tspan dx="0.7">0</tspan><tspan font-size="4.5" dx="0.2" dy="-3.0">5</tspan></text>
<line x1="365.50" y1="233.28" x2="368.30" y2="233.28" stroke="#000" stroke-width="1.0"/>
<text x="362.30" y="235.78" font-size="6.8" text-anchor="end" fill="#1a1a1a" stroke="#1a1a1a" stroke-width="0.12">1<tspan dx="0.7">0</tspan><tspan font-size="4.5" dx="0.2" dy="-3.0">6</tspan></text>
<line x1="365.50" y1="217.56" x2="368.30" y2="217.56" stroke="#000" stroke-width="1.0"/>
<text x="362.30" y="220.06" font-size="6.8" text-anchor="end" fill="#1a1a1a" stroke="#1a1a1a" stroke-width="0.12">1<tspan dx="0.7">0</tspan><tspan font-size="4.5" dx="0.2" dy="-3.0">7</tspan></text>
<line x1="365.50" y1="201.84" x2="368.30" y2="201.84" stroke="#000" stroke-width="1.0"/>
<text x="362.30" y="204.34" font-size="6.8" text-anchor="end" fill="#1a1a1a" stroke="#1a1a1a" stroke-width="0.12">1<tspan dx="0.7">0</tspan><tspan font-size="4.5" dx="0.2" dy="-3.0">8</tspan></text>
<line x1="365.50" y1="186.12" x2="368.30" y2="186.12" stroke="#000" stroke-width="1.0"/>
<text x="362.30" y="188.62" font-size="6.8" text-anchor="end" fill="#1a1a1a" stroke="#1a1a1a" stroke-width="0.12">1<tspan dx="0.7">0</tspan><tspan font-size="4.5" dx="0.2" dy="-3.0">9</tspan></text>
<line x1="365.50" y1="170.40" x2="368.30" y2="170.40" stroke="#000" stroke-width="1.0"/>
<text x="362.30" y="172.90" font-size="6.8" text-anchor="end" fill="#1a1a1a" stroke="#1a1a1a" stroke-width="0.12">1<tspan dx="0.7">0</tspan><tspan font-size="4.5" dx="0.2" dy="-3.0">10</tspan></text>
<line x1="374.80" y1="249.00" x2="374.80" y2="252.00" stroke="#000" stroke-width="1.0"/>
<text x="374.80" y="262.00" font-size="6.6" stroke="#1a1a1a" stroke-width="0.12" text-anchor="middle">0</text>
<line x1="390.65" y1="249.00" x2="390.65" y2="252.00" stroke="#000" stroke-width="1.0"/>
<text x="390.65" y="262.00" font-size="6.6" stroke="#1a1a1a" stroke-width="0.12" text-anchor="middle">5</text>
<line x1="406.50" y1="249.00" x2="406.50" y2="252.00" stroke="#000" stroke-width="1.0"/>
<text x="406.50" y="262.00" font-size="6.6" stroke="#1a1a1a" stroke-width="0.12" text-anchor="middle">10</text>
<line x1="422.35" y1="249.00" x2="422.35" y2="252.00" stroke="#000" stroke-width="1.0"/>
<text x="422.35" y="262.00" font-size="6.6" stroke="#1a1a1a" stroke-width="0.12" text-anchor="middle">15</text>
<line x1="438.20" y1="249.00" x2="438.20" y2="252.00" stroke="#000" stroke-width="1.0"/>
<text x="438.20" y="262.00" font-size="6.6" stroke="#1a1a1a" stroke-width="0.12" text-anchor="middle">20</text>
<line x1="454.05" y1="249.00" x2="454.05" y2="252.00" stroke="#000" stroke-width="1.0"/>
<text x="454.05" y="262.00" font-size="6.6" stroke="#1a1a1a" stroke-width="0.12" text-anchor="middle">25</text>
<line x1="469.90" y1="249.00" x2="469.90" y2="252.00" stroke="#000" stroke-width="1.0"/>
<text x="469.90" y="262.00" font-size="6.6" stroke="#1a1a1a" stroke-width="0.12" text-anchor="middle">30</text>
<line x1="485.75" y1="249.00" x2="485.75" y2="252.00" stroke="#000" stroke-width="1.0"/>
<text x="485.75" y="262.00" font-size="6.6" stroke="#1a1a1a" stroke-width="0.12" text-anchor="middle">35</text>
<text x="429.38" y="274.70" font-size="8.8" text-anchor="middle" fill="#111" font-weight="bold" textLength="40.60" lengthAdjust="spacingAndGlyphs">Days post ACT</text>
<text transform="translate(342.70,209.30) rotate(-90)" font-size="8.4" font-weight="bold" text-anchor="middle" fill="#111" textLength="62.8" lengthAdjust="spacingAndGlyphs">Log<tspan font-size="5" dy="2">10</tspan><tspan dy="-2"> total FLux (p/s)</tspan></text>
<text x="371.00" y="244.60" font-size="7.1" stroke="#b01a45" stroke-width="0.12" fill="#b01a45" textLength="60.00" lengthAdjust="spacingAndGlyphs">CAR-S-2HG (naive)</text>
<path d="M56.85,359.00 L70.10,332.64 L80.70,313.58 L88.65,302.46 L99.25,295.79" stroke="#6cb04a" stroke-width="0.75" fill="none" stroke-linejoin="round"/>
<path d="M56.85,338.35 L70.10,331.68 L80.70,313.58 L88.65,301.35 L93.95,297.86" stroke="#6cb04a" stroke-width="0.75" fill="none" stroke-linejoin="round"/>
<path d="M56.85,348.99 L70.10,318.50 L80.70,304.85 L88.65,302.46 L99.25,297.22" stroke="#6cb04a" stroke-width="0.75" fill="none" stroke-linejoin="round"/>
<path d="M56.85,346.93 L70.10,323.11 L80.70,329.78 L88.65,301.83 L99.25,321.36 L107.20,321.68 L117.80,308.97 L125.75,326.60 L136.35,339.94 L144.30,322.79" stroke="#6cb04a" stroke-width="0.75" fill="none" stroke-linejoin="round"/>
<path d="M56.85,344.86 L70.10,320.57 L80.70,311.52 L88.65,295.32" stroke="#6cb04a" stroke-width="0.75" fill="none" stroke-linejoin="round"/>
<line x1="54.30" y1="292.10" x2="54.30" y2="375.00" stroke="#000" stroke-width="1.2"/>
<line x1="51.50" y1="374.40" x2="155.40" y2="374.40" stroke="#000" stroke-width="1.2"/>
<line x1="51.50" y1="374.40" x2="54.30" y2="374.40" stroke="#000" stroke-width="1.0"/>
<text x="48.30" y="376.90" font-size="6.8" text-anchor="end" fill="#1a1a1a" stroke="#1a1a1a" stroke-width="0.12">1<tspan dx="0.7">0</tspan><tspan font-size="4.5" dx="0.2" dy="-3.0">5</tspan></text>
<line x1="51.50" y1="358.52" x2="54.30" y2="358.52" stroke="#000" stroke-width="1.0"/>
<text x="48.30" y="361.02" font-size="6.8" text-anchor="end" fill="#1a1a1a" stroke="#1a1a1a" stroke-width="0.12">1<tspan dx="0.7">0</tspan><tspan font-size="4.5" dx="0.2" dy="-3.0">6</tspan></text>
<line x1="51.50" y1="342.64" x2="54.30" y2="342.64" stroke="#000" stroke-width="1.0"/>
<text x="48.30" y="345.14" font-size="6.8" text-anchor="end" fill="#1a1a1a" stroke="#1a1a1a" stroke-width="0.12">1<tspan dx="0.7">0</tspan><tspan font-size="4.5" dx="0.2" dy="-3.0">7</tspan></text>
<line x1="51.50" y1="326.76" x2="54.30" y2="326.76" stroke="#000" stroke-width="1.0"/>
<text x="48.30" y="329.26" font-size="6.8" text-anchor="end" fill="#1a1a1a" stroke="#1a1a1a" stroke-width="0.12">1<tspan dx="0.7">0</tspan><tspan font-size="4.5" dx="0.2" dy="-3.0">8</tspan></text>
<line x1="51.50" y1="310.88" x2="54.30" y2="310.88" stroke="#000" stroke-width="1.0"/>
<text x="48.30" y="313.38" font-size="6.8" text-anchor="end" fill="#1a1a1a" stroke="#1a1a1a" stroke-width="0.12">1<tspan dx="0.7">0</tspan><tspan font-size="4.5" dx="0.2" dy="-3.0">9</tspan></text>
<line x1="51.50" y1="295.00" x2="54.30" y2="295.00" stroke="#000" stroke-width="1.0"/>
<text x="48.30" y="297.50" font-size="6.8" text-anchor="end" fill="#1a1a1a" stroke="#1a1a1a" stroke-width="0.12">1<tspan dx="0.7">0</tspan><tspan font-size="4.5" dx="0.2" dy="-3.0">10</tspan></text>
<line x1="59.50" y1="374.40" x2="59.50" y2="377.40" stroke="#000" stroke-width="1.0"/>
<text x="59.50" y="387.40" font-size="6.6" stroke="#1a1a1a" stroke-width="0.12" text-anchor="middle">0</text>
<line x1="72.75" y1="374.40" x2="72.75" y2="377.40" stroke="#000" stroke-width="1.0"/>
<text x="72.75" y="387.40" font-size="6.6" stroke="#1a1a1a" stroke-width="0.12" text-anchor="middle">5</text>
<line x1="86.00" y1="374.40" x2="86.00" y2="377.40" stroke="#000" stroke-width="1.0"/>
<text x="86.00" y="387.40" font-size="6.6" stroke="#1a1a1a" stroke-width="0.12" text-anchor="middle">10</text>
<line x1="99.25" y1="374.40" x2="99.25" y2="377.40" stroke="#000" stroke-width="1.0"/>
<text x="99.25" y="387.40" font-size="6.6" stroke="#1a1a1a" stroke-width="0.12" text-anchor="middle">15</text>
<line x1="112.50" y1="374.40" x2="112.50" y2="377.40" stroke="#000" stroke-width="1.0"/>
<text x="112.50" y="387.40" font-size="6.6" stroke="#1a1a1a" stroke-width="0.12" text-anchor="middle">20</text>
<line x1="125.75" y1="374.40" x2="125.75" y2="377.40" stroke="#000" stroke-width="1.0"/>
<text x="125.75" y="387.40" font-size="6.6" stroke="#1a1a1a" stroke-width="0.12" text-anchor="middle">25</text>
<line x1="139.00" y1="374.40" x2="139.00" y2="377.40" stroke="#000" stroke-width="1.0"/>
<text x="139.00" y="387.40" font-size="6.6" stroke="#1a1a1a" stroke-width="0.12" text-anchor="middle">30</text>
<line x1="152.25" y1="374.40" x2="152.25" y2="377.40" stroke="#000" stroke-width="1.0"/>
<text x="152.25" y="387.40" font-size="6.6" stroke="#1a1a1a" stroke-width="0.12" text-anchor="middle">35</text>
<text x="104.97" y="400.10" font-size="8.8" text-anchor="middle" fill="#111" font-weight="bold" textLength="40.60" lengthAdjust="spacingAndGlyphs">Days post ACT</text>
<text transform="translate(28.70,334.70) rotate(-90)" font-size="8.4" font-weight="bold" text-anchor="middle" fill="#111" textLength="62.8" lengthAdjust="spacingAndGlyphs">Log<tspan font-size="5" dy="2">10</tspan><tspan dy="-2"> total FLux (p/s)</tspan></text>
<text x="61.70" y="370.00" font-size="7.1" stroke="#6cb04a" stroke-width="0.12" fill="#6cb04a" textLength="18.00" lengthAdjust="spacingAndGlyphs">tEGFR</text>
<path d="M203.91,343.16 C206.57,339.75 215.07,328.23 219.86,322.72 C224.64,317.22 228.90,313.16 232.62,310.15 C236.34,307.14 238.47,305.96 242.19,304.65 C245.91,303.34 251.23,302.37 254.95,302.29 C258.67,302.21 261.33,304.41 264.52,304.17 C267.71,303.94 272.50,301.42 274.09,300.87" stroke="#4d69a1" stroke-width="0.6" fill="none" stroke-linejoin="round" stroke-dasharray="2.8,1.8"/>
<path d="M203.91,351.02 C206.57,347.09 215.07,333.73 219.86,327.44 C224.64,321.15 228.90,316.70 232.62,313.29 C236.34,309.89 238.47,309.10 242.19,307.00 C245.91,304.91 251.23,300.87 254.95,300.72 C258.67,300.56 261.86,303.83 264.52,306.06 C267.18,308.29 268.77,313.87 270.90,314.08 C273.03,314.29 274.62,307.42 277.28,307.32 C279.94,307.21 283.13,309.96 286.85,313.45 C290.57,316.93 295.89,323.27 299.61,328.23 C303.33,333.18 307.59,340.67 309.18,343.16" stroke="#4d69a1" stroke-width="0.6" fill="none" stroke-linejoin="round" stroke-dasharray="2.8,1.8"/>
<path d="M203.91,349.45 C206.57,345.78 215.07,333.47 219.86,327.44 C224.64,321.41 228.90,316.44 232.62,313.29 C236.34,310.15 238.47,309.62 242.19,308.58 C245.91,307.53 251.23,305.43 254.95,307.00 C258.67,308.58 260.80,315.18 264.52,318.01 C268.24,320.84 273.56,322.28 277.28,323.98 C281.00,325.68 283.13,327.10 286.85,328.23 C290.57,329.35 295.89,330.43 299.61,330.74 C303.33,331.06 307.59,330.22 309.18,330.11" stroke="#4d69a1" stroke-width="0.6" fill="none" stroke-linejoin="round" stroke-dasharray="2.8,1.8"/>
<path d="M203.91,352.59 C206.57,348.66 215.07,335.30 219.86,329.01 C224.64,322.72 228.90,318.27 232.62,314.86 C236.34,311.46 238.47,309.49 242.19,308.58 C245.91,307.66 251.23,307.11 254.95,309.36 C258.67,311.62 260.80,318.32 264.52,322.10 C268.24,325.87 273.56,329.33 277.28,332.00 C281.00,334.67 283.13,335.88 286.85,338.13 C290.57,340.38 295.89,343.66 299.61,345.52 C303.33,347.38 307.59,348.66 309.18,349.29" stroke="#4d69a1" stroke-width="0.6" fill="none" stroke-linejoin="round" stroke-dasharray="2.8,1.8"/>
<path d="M203.91,355.74 C206.57,351.54 215.07,337.13 219.86,330.58 C224.64,324.03 228.90,319.58 232.62,316.44 C236.34,313.29 239.53,311.46 242.19,311.72 C244.85,311.98 246.44,318.27 248.57,318.01 C250.70,317.75 252.29,309.62 254.95,310.15 C257.61,310.67 260.80,318.27 264.52,321.15 C268.24,324.03 273.56,324.56 277.28,327.44 C281.00,330.32 283.13,332.97 286.85,338.44 C290.57,343.92 295.89,359.25 299.61,360.29 C303.33,361.34 307.59,347.33 309.18,344.73" stroke="#4d69a1" stroke-width="0.6" fill="none" stroke-linejoin="round" stroke-dasharray="2.8,1.8"/>
<path d="M203.91,346.30 C206.57,342.90 215.07,331.37 219.86,325.87 C224.64,320.37 228.90,316.70 232.62,313.29 C236.34,309.89 238.47,307.00 242.19,305.43 C245.91,303.86 251.23,301.50 254.95,303.86 C258.67,306.22 260.80,314.60 264.52,319.58 C268.24,324.56 273.56,331.89 277.28,333.73 C281.00,335.56 283.13,329.01 286.85,330.58 C290.57,332.16 295.89,339.49 299.61,343.16 C303.33,346.83 307.59,351.02 309.18,352.59" stroke="#4d69a1" stroke-width="0.6" fill="none" stroke-linejoin="round" stroke-dasharray="2.8,1.8"/>
<path d="M203.91,354.16 C206.57,349.97 215.07,335.43 219.86,329.01 C224.64,322.59 228.90,318.01 232.62,315.65 C236.34,313.29 238.47,314.21 242.19,314.86 C245.91,315.52 251.23,318.01 254.95,319.58 C258.67,321.15 260.80,322.72 264.52,324.30 C268.24,325.87 273.56,327.18 277.28,329.01 C281.00,330.85 283.13,333.47 286.85,335.30 C290.57,337.13 295.89,337.66 299.61,340.02 C303.33,342.37 307.59,347.88 309.18,349.45" stroke="#4d69a1" stroke-width="0.6" fill="none" stroke-linejoin="round" stroke-dasharray="2.8,1.8"/>
<path d="M203.91,340.02 C206.57,336.87 215.07,326.39 219.86,321.15 C224.64,315.91 228.90,311.46 232.62,308.58 C236.34,305.69 238.47,304.78 242.19,303.86 C245.91,302.94 251.23,300.98 254.95,303.07 C258.67,305.17 260.80,310.54 264.52,316.44 C268.24,322.33 273.56,333.47 277.28,338.44 C281.00,343.42 283.13,343.95 286.85,346.30 C290.57,348.66 295.89,351.02 299.61,352.59 C303.33,354.16 307.59,355.21 309.18,355.74" stroke="#4d69a1" stroke-width="0.6" fill="none" stroke-linejoin="round" stroke-dasharray="2.8,1.8"/>
<path d="M203.91,358.88 C206.57,354.43 215.07,338.97 219.86,332.16 C224.64,325.34 228.90,321.41 232.62,318.01 C236.34,314.60 238.47,314.47 242.19,311.72 C245.91,308.97 251.23,301.24 254.95,301.50 C258.67,301.76 260.80,309.76 264.52,313.29 C268.24,316.83 273.56,320.10 277.28,322.72 C281.00,325.34 283.13,326.65 286.85,329.01 C290.57,331.37 295.89,335.30 299.61,336.87 C303.33,338.44 307.59,338.18 309.18,338.44" stroke="#4d69a1" stroke-width="0.6" fill="none" stroke-linejoin="round" stroke-dasharray="2.8,1.8"/>
<line x1="201.30" y1="293.10" x2="201.30" y2="375.20" stroke="#000" stroke-width="1.2"/>
<line x1="198.50" y1="374.60" x2="322.10" y2="374.60" stroke="#000" stroke-width="1.2"/>
<line x1="198.50" y1="374.60" x2="201.30" y2="374.60" stroke="#000" stroke-width="1.0"/>
<text x="195.30" y="377.10" font-size="6.8" text-anchor="end" fill="#1a1a1a" stroke="#1a1a1a" stroke-width="0.12">1<tspan dx="0.7">0</tspan><tspan font-size="4.5" dx="0.2" dy="-3.0">5</tspan></text>
<line x1="198.50" y1="358.88" x2="201.30" y2="358.88" stroke="#000" stroke-width="1.0"/>
<text x="195.30" y="361.38" font-size="6.8" text-anchor="end" fill="#1a1a1a" stroke="#1a1a1a" stroke-width="0.12">1<tspan dx="0.7">0</tspan><tspan font-size="4.5" dx="0.2" dy="-3.0">6</tspan></text>
<line x1="198.50" y1="343.16" x2="201.30" y2="343.16" stroke="#000" stroke-width="1.0"/>
<text x="195.30" y="345.66" font-size="6.8" text-anchor="end" fill="#1a1a1a" stroke="#1a1a1a" stroke-width="0.12">1<tspan dx="0.7">0</tspan><tspan font-size="4.5" dx="0.2" dy="-3.0">7</tspan></text>
<line x1="198.50" y1="327.44" x2="201.30" y2="327.44" stroke="#000" stroke-width="1.0"/>
<text x="195.30" y="329.94" font-size="6.8" text-anchor="end" fill="#1a1a1a" stroke="#1a1a1a" stroke-width="0.12">1<tspan dx="0.7">0</tspan><tspan font-size="4.5" dx="0.2" dy="-3.0">8</tspan></text>
<line x1="198.50" y1="311.72" x2="201.30" y2="311.72" stroke="#000" stroke-width="1.0"/>
<text x="195.30" y="314.22" font-size="6.8" text-anchor="end" fill="#1a1a1a" stroke="#1a1a1a" stroke-width="0.12">1<tspan dx="0.7">0</tspan><tspan font-size="4.5" dx="0.2" dy="-3.0">9</tspan></text>
<line x1="198.50" y1="296.00" x2="201.30" y2="296.00" stroke="#000" stroke-width="1.0"/>
<text x="195.30" y="298.50" font-size="6.8" text-anchor="end" fill="#1a1a1a" stroke="#1a1a1a" stroke-width="0.12">1<tspan dx="0.7">0</tspan><tspan font-size="4.5" dx="0.2" dy="-3.0">10</tspan></text>
<line x1="207.10" y1="374.60" x2="207.10" y2="377.60" stroke="#000" stroke-width="1.0"/>
<text x="207.10" y="387.60" font-size="6.6" stroke="#1a1a1a" stroke-width="0.12" text-anchor="middle">0</text>
<line x1="223.05" y1="374.60" x2="223.05" y2="377.60" stroke="#000" stroke-width="1.0"/>
<text x="223.05" y="387.60" font-size="6.6" stroke="#1a1a1a" stroke-width="0.12" text-anchor="middle">5</text>
<line x1="239.00" y1="374.60" x2="239.00" y2="377.60" stroke="#000" stroke-width="1.0"/>
<text x="239.00" y="387.60" font-size="6.6" stroke="#1a1a1a" stroke-width="0.12" text-anchor="middle">10</text>
<line x1="254.95" y1="374.60" x2="254.95" y2="377.60" stroke="#000" stroke-width="1.0"/>
<text x="254.95" y="387.60" font-size="6.6" stroke="#1a1a1a" stroke-width="0.12" text-anchor="middle">15</text>
<line x1="270.90" y1="374.60" x2="270.90" y2="377.60" stroke="#000" stroke-width="1.0"/>
<text x="270.90" y="387.60" font-size="6.6" stroke="#1a1a1a" stroke-width="0.12" text-anchor="middle">20</text>
<line x1="286.85" y1="374.60" x2="286.85" y2="377.60" stroke="#000" stroke-width="1.0"/>
<text x="286.85" y="387.60" font-size="6.6" stroke="#1a1a1a" stroke-width="0.12" text-anchor="middle">25</text>
<line x1="302.80" y1="374.60" x2="302.80" y2="377.60" stroke="#000" stroke-width="1.0"/>
<text x="302.80" y="387.60" font-size="6.6" stroke="#1a1a1a" stroke-width="0.12" text-anchor="middle">30</text>
<line x1="318.75" y1="374.60" x2="318.75" y2="377.60" stroke="#000" stroke-width="1.0"/>
<text x="318.75" y="387.60" font-size="6.6" stroke="#1a1a1a" stroke-width="0.12" text-anchor="middle">35</text>
<text x="262.03" y="400.30" font-size="8.8" text-anchor="middle" fill="#111" font-weight="bold" textLength="40.60" lengthAdjust="spacingAndGlyphs">Days post ACT</text>
<text transform="translate(175.70,334.90) rotate(-90)" font-size="8.4" font-weight="bold" text-anchor="middle" fill="#111" textLength="62.8" lengthAdjust="spacingAndGlyphs">Log<tspan font-size="5" dy="2">10</tspan><tspan dy="-2"> total FLux (p/s)</tspan></text>
<text x="204.00" y="370.20" font-size="7.1" stroke="#3d5c99" stroke-width="0.12" fill="#3d5c99" textLength="57.60" lengthAdjust="spacingAndGlyphs">CAR-Vehicle (total)</text>
<path d="M371.63,343.16 C374.27,339.23 382.73,325.34 387.48,319.58 C392.24,313.82 396.99,311.54 400.16,308.58 C403.33,305.62 405.44,302.94 406.50,301.82" stroke="#bf2a55" stroke-width="0.6" fill="none" stroke-linejoin="round" stroke-dasharray="2.8,1.8"/>
<path d="M371.63,349.45 C374.27,345.78 382.73,332.94 387.48,327.44 C392.24,321.94 396.46,319.16 400.16,316.44 C403.86,313.71 405.97,312.40 409.67,311.09 C413.37,309.78 418.65,307.55 422.35,308.58 C426.05,309.60 428.16,313.95 431.86,317.22 C435.56,320.50 440.84,325.34 444.54,328.23 C448.24,331.11 450.35,332.44 454.05,334.51 C457.75,336.58 463.03,338.99 466.73,340.64 C470.43,342.30 474.66,343.79 476.24,344.42" stroke="#bf2a55" stroke-width="0.6" fill="none" stroke-linejoin="round" stroke-dasharray="2.8,1.8"/>
<path d="M371.63,352.59 C374.27,349.19 382.73,337.40 387.48,332.16 C392.24,326.92 396.99,323.51 400.16,321.15 C403.33,318.79 404.92,319.58 406.50,318.01 C408.08,316.44 408.09,313.03 409.67,311.72 C411.25,310.41 413.90,310.15 416.01,310.15 C418.12,310.15 419.71,309.62 422.35,311.72 C424.99,313.82 428.16,319.06 431.86,322.72 C435.56,326.39 440.84,330.85 444.54,333.73 C448.24,336.61 450.35,337.92 454.05,340.02 C457.75,342.11 463.03,343.95 466.73,346.30 C470.43,348.66 474.66,352.85 476.24,354.16" stroke="#bf2a55" stroke-width="0.6" fill="none" stroke-linejoin="round" stroke-dasharray="2.8,1.8"/>
<path d="M371.63,358.57 C373.21,357.57 378.50,354.11 381.14,352.59 C383.78,351.07 385.37,351.81 387.48,349.45 C389.59,347.09 391.71,342.58 393.82,338.44 C395.93,334.30 397.52,327.34 400.16,324.61 C402.80,321.89 405.97,322.67 409.67,322.10 C413.37,321.52 418.65,320.00 422.35,321.15 C426.05,322.30 428.16,326.13 431.86,329.01 C435.56,331.89 440.84,336.09 444.54,338.44 C448.24,340.80 450.35,341.59 454.05,343.16 C457.75,344.73 463.03,346.57 466.73,347.88 C470.43,349.19 474.66,350.50 476.24,351.02" stroke="#bf2a55" stroke-width="0.6" fill="none" stroke-linejoin="round" stroke-dasharray="2.8,1.8"/>
<path d="M371.63,354.16 C374.27,350.76 382.73,338.97 387.48,333.73 C392.24,328.49 396.46,324.82 400.16,322.72 C403.86,320.63 405.97,316.93 409.67,321.15 C413.37,325.37 418.65,343.55 422.35,348.03 C426.05,352.51 428.16,348.03 431.86,348.03 C435.56,348.03 440.84,349.26 444.54,348.03 C448.24,346.80 450.35,341.20 454.05,340.64 C457.75,340.09 463.03,343.53 466.73,344.73 C470.43,345.94 474.66,347.35 476.24,347.88" stroke="#bf2a55" stroke-width="0.6" fill="none" stroke-linejoin="round" stroke-dasharray="2.8,1.8"/>
<path d="M371.63,351.02 C374.27,347.61 382.73,335.82 387.48,330.58 C392.24,325.34 396.46,321.41 400.16,319.58 C403.86,317.75 405.97,318.27 409.67,319.58 C413.37,320.89 418.65,321.05 422.35,327.44 C426.05,333.83 428.16,355.74 431.86,357.94 C435.56,360.14 440.84,345.60 444.54,340.64 C448.24,335.69 450.35,332.26 454.05,328.23 C457.75,324.19 463.03,318.79 466.73,316.44 C470.43,314.08 474.66,314.47 476.24,314.08" stroke="#bf2a55" stroke-width="0.6" fill="none" stroke-linejoin="round" stroke-dasharray="2.8,1.8"/>
<path d="M371.63,346.30 C374.27,342.90 382.73,331.11 387.48,325.87 C392.24,320.63 396.46,317.22 400.16,314.86 C403.86,312.51 405.97,313.03 409.67,311.72 C413.37,310.41 418.65,305.69 422.35,307.00 C426.05,308.31 428.16,315.65 431.86,319.58 C435.56,323.51 440.84,327.18 444.54,330.58 C448.24,333.99 450.35,336.87 454.05,340.02 C457.75,343.16 463.03,346.83 466.73,349.45 C470.43,352.07 474.66,354.69 476.24,355.74" stroke="#bf2a55" stroke-width="0.6" fill="none" stroke-linejoin="round" stroke-dasharray="2.8,1.8"/>
<path d="M371.63,355.74 C374.27,352.33 382.73,341.59 387.48,335.30 C392.24,329.01 396.46,321.68 400.16,318.01 C403.86,314.34 405.97,313.29 409.67,313.29 C413.37,313.29 418.65,315.39 422.35,318.01 C426.05,320.63 428.16,325.87 431.86,329.01 C435.56,332.16 440.84,334.25 444.54,336.87 C448.24,339.49 450.35,341.85 454.05,344.73 C457.75,347.61 463.03,351.68 466.73,354.16 C470.43,356.65 474.66,358.75 476.24,359.67" stroke="#bf2a55" stroke-width="0.6" fill="none" stroke-linejoin="round" stroke-dasharray="2.8,1.8"/>
<line x1="368.30" y1="293.10" x2="368.30" y2="375.20" stroke="#000" stroke-width="1.2"/>
<line x1="365.50" y1="374.60" x2="489.10" y2="374.60" stroke="#000" stroke-width="1.2"/>
<line x1="365.50" y1="374.60" x2="368.30" y2="374.60" stroke="#000" stroke-width="1.0"/>
<text x="362.30" y="377.10" font-size="6.8" text-anchor="end" fill="#1a1a1a" stroke="#1a1a1a" stroke-width="0.12">1<tspan dx="0.7">0</tspan><tspan font-size="4.5" dx="0.2" dy="-3.0">5</tspan></text>
<line x1="365.50" y1="358.88" x2="368.30" y2="358.88" stroke="#000" stroke-width="1.0"/>
<text x="362.30" y="361.38" font-size="6.8" text-anchor="end" fill="#1a1a1a" stroke="#1a1a1a" stroke-width="0.12">1<tspan dx="0.7">0</tspan><tspan font-size="4.5" dx="0.2" dy="-3.0">6</tspan></text>
<line x1="365.50" y1="343.16" x2="368.30" y2="343.16" stroke="#000" stroke-width="1.0"/>
<text x="362.30" y="345.66" font-size="6.8" text-anchor="end" fill="#1a1a1a" stroke="#1a1a1a" stroke-width="0.12">1<tspan dx="0.7">0</tspan><tspan font-size="4.5" dx="0.2" dy="-3.0">7</tspan></text>
<line x1="365.50" y1="327.44" x2="368.30" y2="327.44" stroke="#000" stroke-width="1.0"/>
<text x="362.30" y="329.94" font-size="6.8" text-anchor="end" fill="#1a1a1a" stroke="#1a1a1a" stroke-width="0.12">1<tspan dx="0.7">0</tspan><tspan font-size="4.5" dx="0.2" dy="-3.0">8</tspan></text>
<line x1="365.50" y1="311.72" x2="368.30" y2="311.72" stroke="#000" stroke-width="1.0"/>
<text x="362.30" y="314.22" font-size="6.8" text-anchor="end" fill="#1a1a1a" stroke="#1a1a1a" stroke-width="0.12">1<tspan dx="0.7">0</tspan><tspan font-size="4.5" dx="0.2" dy="-3.0">9</tspan></text>
<line x1="365.50" y1="296.00" x2="368.30" y2="296.00" stroke="#000" stroke-width="1.0"/>
<text x="362.30" y="298.50" font-size="6.8" text-anchor="end" fill="#1a1a1a" stroke="#1a1a1a" stroke-width="0.12">1<tspan dx="0.7">0</tspan><tspan font-size="4.5" dx="0.2" dy="-3.0">10</tspan></text>
<line x1="374.80" y1="374.60" x2="374.80" y2="377.60" stroke="#000" stroke-width="1.0"/>
<text x="374.80" y="387.60" font-size="6.6" stroke="#1a1a1a" stroke-width="0.12" text-anchor="middle">0</text>
<line x1="390.65" y1="374.60" x2="390.65" y2="377.60" stroke="#000" stroke-width="1.0"/>
<text x="390.65" y="387.60" font-size="6.6" stroke="#1a1a1a" stroke-width="0.12" text-anchor="middle">5</text>
<line x1="406.50" y1="374.60" x2="406.50" y2="377.60" stroke="#000" stroke-width="1.0"/>
<text x="406.50" y="387.60" font-size="6.6" stroke="#1a1a1a" stroke-width="0.12" text-anchor="middle">10</text>
<line x1="422.35" y1="374.60" x2="422.35" y2="377.60" stroke="#000" stroke-width="1.0"/>
<text x="422.35" y="387.60" font-size="6.6" stroke="#1a1a1a" stroke-width="0.12" text-anchor="middle">15</text>
<line x1="438.20" y1="374.60" x2="438.20" y2="377.60" stroke="#000" stroke-width="1.0"/>
<text x="438.20" y="387.60" font-size="6.6" stroke="#1a1a1a" stroke-width="0.12" text-anchor="middle">20</text>
<line x1="454.05" y1="374.60" x2="454.05" y2="377.60" stroke="#000" stroke-width="1.0"/>
<text x="454.05" y="387.60" font-size="6.6" stroke="#1a1a1a" stroke-width="0.12" text-anchor="middle">25</text>
<line x1="469.90" y1="374.60" x2="469.90" y2="377.60" stroke="#000" stroke-width="1.0"/>
<text x="469.90" y="387.60" font-size="6.6" stroke="#1a1a1a" stroke-width="0.12" text-anchor="middle">30</text>
<line x1="485.75" y1="374.60" x2="485.75" y2="377.60" stroke="#000" stroke-width="1.0"/>
<text x="485.75" y="387.60" font-size="6.6" stroke="#1a1a1a" stroke-width="0.12" text-anchor="middle">35</text>
<text x="429.38" y="400.30" font-size="8.8" text-anchor="middle" fill="#111" font-weight="bold" textLength="40.60" lengthAdjust="spacingAndGlyphs">Days post ACT</text>
<text transform="translate(342.70,334.90) rotate(-90)" font-size="8.4" font-weight="bold" text-anchor="middle" fill="#111" textLength="62.8" lengthAdjust="spacingAndGlyphs">Log<tspan font-size="5" dy="2">10</tspan><tspan dy="-2"> total FLux (p/s)</tspan></text>
<text x="371.00" y="370.20" font-size="7.1" stroke="#b01a45" stroke-width="0.12" fill="#b01a45" textLength="58.30" lengthAdjust="spacingAndGlyphs">CAR-S-2HG (total)</text>
<text x="8.00" y="424.00" font-size="12.5" fill="#000" font-weight="bold">D</text>
<text x="73.40" y="432.30" font-size="9.0" stroke="#1a1a1a" stroke-width="0.12" textLength="66.00" lengthAdjust="spacingAndGlyphs">Day 12 / Day 13</text>
<line x1="54.60" y1="438.10" x2="54.60" y2="524.30" stroke="#000" stroke-width="1.2"/>
<line x1="51.30" y1="523.70" x2="158.60" y2="523.70" stroke="#000" stroke-width="1.2"/>
<line x1="51.20" y1="523.70" x2="54.60" y2="523.70" stroke="#000" stroke-width="1.0"/>
<text x="48.00" y="526.30" font-size="7.3" stroke="#1a1a1a" stroke-width="0.12" text-anchor="end">0</text>
<line x1="51.20" y1="503.08" x2="54.60" y2="503.08" stroke="#000" stroke-width="1.0"/>
<text x="48.00" y="505.68" font-size="7.3" stroke="#1a1a1a" stroke-width="0.12" text-anchor="end">5</text>
<line x1="51.20" y1="482.45" x2="54.60" y2="482.45" stroke="#000" stroke-width="1.0"/>
<text x="48.00" y="485.05" font-size="7.3" stroke="#1a1a1a" stroke-width="0.12" text-anchor="end">10</text>
<line x1="51.20" y1="461.83" x2="54.60" y2="461.83" stroke="#000" stroke-width="1.0"/>
<text x="48.00" y="464.43" font-size="7.3" stroke="#1a1a1a" stroke-width="0.12" text-anchor="end">15</text>
<line x1="51.20" y1="441.20" x2="54.60" y2="441.20" stroke="#000" stroke-width="1.0"/>
<text x="48.00" y="443.80" font-size="7.3" stroke="#1a1a1a" stroke-width="0.12" text-anchor="end">20</text>
<line x1="68.90" y1="523.70" x2="68.90" y2="526.70" stroke="#000" stroke-width="1.0"/>
<line x1="93.90" y1="523.70" x2="93.90" y2="526.70" stroke="#000" stroke-width="1.0"/>
<line x1="119.20" y1="523.70" x2="119.20" y2="526.70" stroke="#000" stroke-width="1.0"/>
<line x1="144.20" y1="523.70" x2="144.20" y2="526.70" stroke="#000" stroke-width="1.0"/>
<text transform="translate(21.70,481.00) rotate(-90)" font-size="9.2" font-weight="bold" text-anchor="middle" fill="#111" textLength="59.4" lengthAdjust="spacingAndGlyphs">CCR7 + / CD45RO +</text>
<text transform="translate(33.10,481.00) rotate(-90)" font-size="9.0" font-weight="bold" text-anchor="middle" fill="#111" textLength="74.0" lengthAdjust="spacingAndGlyphs">(% CAR T+ cells in blood)</text>
<path d="M68.9,489.3 L68.9,442.0 L93.8,442.0" stroke="#222" stroke-width="1.1" fill="none"/>
<line x1="63.50" y1="489.30" x2="75.40" y2="489.30" stroke="#222" stroke-width="1.1"/>
<text x="81.60" y="442.00" font-size="5.5" stroke="#000" stroke-width="0.12" text-anchor="middle" fill="#000">*</text>
<circle cx="63.20" cy="498.80" r="1.45" fill="#1f3f85"/>
<circle cx="68.90" cy="497.60" r="1.45" fill="#1f3f85"/>
<circle cx="74.70" cy="499.50" r="1.45" fill="#1f3f85"/>
<circle cx="68.90" cy="504.80" r="1.45" fill="#1f3f85"/>
<circle cx="74.70" cy="509.30" r="1.45" fill="#1f3f85"/>
<circle cx="63.20" cy="513.20" r="1.45" fill="#1f3f85"/>
<circle cx="74.70" cy="514.10" r="1.45" fill="#1f3f85"/>
<circle cx="68.90" cy="511.70" r="1.45" fill="#1f3f85"/>
<circle cx="68.90" cy="519.90" r="1.45" fill="#1f3f85"/>
<circle cx="68.90" cy="523.70" r="1.45" fill="#1f3f85"/>
<line x1="61.90" y1="509.30" x2="75.90" y2="509.30" stroke="#1f3f85" stroke-width="1.0"/>
<line x1="68.90" y1="506.00" x2="68.90" y2="511.70" stroke="#1f3f85" stroke-width="1.0"/>
<line x1="65.60" y1="506.00" x2="72.20" y2="506.00" stroke="#1f3f85" stroke-width="1.0"/>
<line x1="65.60" y1="511.70" x2="72.20" y2="511.70" stroke="#1f3f85" stroke-width="1.0"/>
<circle cx="88.20" cy="489.60" r="1.45" fill="#b0103a"/>
<circle cx="99.70" cy="487.20" r="1.45" fill="#b0103a"/>
<circle cx="93.90" cy="490.60" r="1.45" fill="#b0103a"/>
<circle cx="93.90" cy="496.30" r="1.45" fill="#b0103a"/>
<circle cx="91.10" cy="501.60" r="1.45" fill="#b0103a"/>
<circle cx="96.80" cy="501.60" r="1.45" fill="#b0103a"/>
<circle cx="93.90" cy="505.80" r="1.45" fill="#b0103a"/>
<circle cx="96.80" cy="508.80" r="1.45" fill="#b0103a"/>
<circle cx="91.10" cy="511.50" r="1.45" fill="#b0103a"/>
<circle cx="94.30" cy="445.80" r="1.45" fill="#b0103a"/>
<circle cx="94.30" cy="464.60" r="1.45" fill="#b0103a"/>
<line x1="86.70" y1="491.00" x2="101.10" y2="491.00" stroke="#b0103a" stroke-width="1.0"/>
<line x1="93.90" y1="485.30" x2="93.90" y2="497.30" stroke="#b0103a" stroke-width="1.0"/>
<line x1="90.50" y1="485.30" x2="97.30" y2="485.30" stroke="#b0103a" stroke-width="1.0"/>
<line x1="90.50" y1="497.30" x2="97.30" y2="497.30" stroke="#b0103a" stroke-width="1.0"/>
<rect x="117.60" y="476.30" width="3.0" height="3.0" fill="none" stroke="#2f5190" stroke-width="0.9"/>
<rect x="115.60" y="486.40" width="3.0" height="3.0" fill="none" stroke="#2f5190" stroke-width="0.9"/>
<rect x="119.70" y="487.00" width="3.0" height="3.0" fill="none" stroke="#2f5190" stroke-width="0.9"/>
<rect x="115.60" y="489.80" width="3.0" height="3.0" fill="none" stroke="#2f5190" stroke-width="0.9"/>
<rect x="116.20" y="497.90" width="3.0" height="3.0" fill="none" stroke="#2f5190" stroke-width="0.9"/>
<rect x="119.70" y="499.10" width="3.0" height="3.0" fill="none" stroke="#2f5190" stroke-width="0.9"/>
<rect x="115.60" y="501.40" width="3.0" height="3.0" fill="none" stroke="#2f5190" stroke-width="0.9"/>
<rect x="111.60" y="522.20" width="3.0" height="3.0" fill="none" stroke="#2f5190" stroke-width="0.9"/>
<rect x="115.00" y="522.20" width="3.0" height="3.0" fill="none" stroke="#2f5190" stroke-width="0.9"/>
<rect x="117.90" y="522.20" width="3.0" height="3.0" fill="none" stroke="#2f5190" stroke-width="0.9"/>
<rect x="120.80" y="522.20" width="3.0" height="3.0" fill="none" stroke="#2f5190" stroke-width="0.9"/>
<rect x="123.70" y="522.20" width="3.0" height="3.0" fill="none" stroke="#2f5190" stroke-width="0.9"/>
<line x1="113.00" y1="504.40" x2="125.40" y2="504.40" stroke="#2f5190" stroke-width="1.0"/>
<line x1="119.20" y1="498.80" x2="119.20" y2="510.40" stroke="#2f5190" stroke-width="1.0"/>
<line x1="115.80" y1="498.80" x2="122.60" y2="498.80" stroke="#2f5190" stroke-width="1.0"/>
<line x1="115.80" y1="510.40" x2="122.60" y2="510.40" stroke="#2f5190" stroke-width="1.0"/>
<rect x="142.70" y="470.60" width="3.0" height="3.0" fill="none" stroke="#c0284f" stroke-width="0.9"/>
<rect x="142.70" y="485.20" width="3.0" height="3.0" fill="none" stroke="#c0284f" stroke-width="0.9"/>
<rect x="142.70" y="496.80" width="3.0" height="3.0" fill="none" stroke="#c0284f" stroke-width="0.9"/>
<rect x="142.70" y="500.80" width="3.0" height="3.0" fill="none" stroke="#c0284f" stroke-width="0.9"/>
<rect x="137.50" y="510.00" width="3.0" height="3.0" fill="none" stroke="#c0284f" stroke-width="0.9"/>
<rect x="148.50" y="513.50" width="3.0" height="3.0" fill="none" stroke="#c0284f" stroke-width="0.9"/>
<rect x="142.70" y="515.20" width="3.0" height="3.0" fill="none" stroke="#c0284f" stroke-width="0.9"/>
<rect x="137.00" y="522.20" width="3.0" height="3.0" fill="none" stroke="#c0284f" stroke-width="0.9"/>
<rect x="142.70" y="522.20" width="3.0" height="3.0" fill="none" stroke="#c0284f" stroke-width="0.9"/>
<rect x="148.50" y="522.20" width="3.0" height="3.0" fill="none" stroke="#c0284f" stroke-width="0.9"/>
<line x1="137.60" y1="507.50" x2="150.80" y2="507.50" stroke="#c0284f" stroke-width="1.0" stroke-dasharray="2.2,1.6"/>
<line x1="144.20" y1="501.70" x2="144.20" y2="512.90" stroke="#c0284f" stroke-width="1.0"/>
<line x1="140.80" y1="501.70" x2="147.60" y2="501.70" stroke="#c0284f" stroke-width="1.0"/>
<line x1="140.80" y1="512.90" x2="147.60" y2="512.90" stroke="#c0284f" stroke-width="1.0"/>
<text transform="translate(69.90,533.70) rotate(-45)" font-size="7.4" text-anchor="end" fill="#1a1a1a" textLength="40.5" lengthAdjust="spacingAndGlyphs" stroke="#1a1a1a" stroke-width="0.12">CAR-Vehicle</text>
<text transform="translate(75.27,539.07) rotate(-45)" font-size="7.4" text-anchor="end" fill="#1a1a1a" textLength="21.0" lengthAdjust="spacingAndGlyphs" stroke="#1a1a1a" stroke-width="0.12">(naive)</text>
<text transform="translate(94.90,533.70) rotate(-45)" font-size="7.4" text-anchor="end" fill="#1a1a1a" textLength="40.0" lengthAdjust="spacingAndGlyphs" stroke="#1a1a1a" stroke-width="0.12">CAR-S-2HG</text>
<text transform="translate(100.27,539.07) rotate(-45)" font-size="7.4" text-anchor="end" fill="#1a1a1a" textLength="21.0" lengthAdjust="spacingAndGlyphs" stroke="#1a1a1a" stroke-width="0.12">(naive)</text>
<text transform="translate(120.20,533.70) rotate(-45)" font-size="7.4" text-anchor="end" fill="#1a1a1a" textLength="40.5" lengthAdjust="spacingAndGlyphs" stroke="#1a1a1a" stroke-width="0.12">CAR-Vehicle</text>
<text transform="translate(125.57,539.07) rotate(-45)" font-size="7.4" text-anchor="end" fill="#1a1a1a" textLength="18.6" lengthAdjust="spacingAndGlyphs" stroke="#1a1a1a" stroke-width="0.12">(total)</text>
<text transform="translate(145.20,533.70) rotate(-45)" font-size="7.4" text-anchor="end" fill="#1a1a1a" textLength="40.0" lengthAdjust="spacingAndGlyphs" stroke="#1a1a1a" stroke-width="0.12">CAR-S-2HG</text>
<text transform="translate(150.57,539.07) rotate(-45)" font-size="7.4" text-anchor="end" fill="#1a1a1a" textLength="18.6" lengthAdjust="spacingAndGlyphs" stroke="#1a1a1a" stroke-width="0.12">(total)</text>
<text x="8.00" y="596.90" font-size="12.5" fill="#000" font-weight="bold">E</text>
<text x="67.20" y="604.60" font-size="9.0" stroke="#1a1a1a" stroke-width="0.12" textLength="64.60" lengthAdjust="spacingAndGlyphs">Day 20 / Day 21</text>
<line x1="54.60" y1="610.80" x2="54.60" y2="696.80" stroke="#000" stroke-width="1.2"/>
<line x1="51.30" y1="696.20" x2="158.70" y2="696.20" stroke="#000" stroke-width="1.2"/>
<line x1="51.20" y1="696.20" x2="54.60" y2="696.20" stroke="#000" stroke-width="1.0"/>
<text x="48.00" y="698.80" font-size="7.3" stroke="#1a1a1a" stroke-width="0.12" text-anchor="end">0</text>
<line x1="51.20" y1="668.70" x2="54.60" y2="668.70" stroke="#000" stroke-width="1.0"/>
<text x="48.00" y="671.30" font-size="7.3" stroke="#1a1a1a" stroke-width="0.12" text-anchor="end">5</text>
<line x1="51.20" y1="641.20" x2="54.60" y2="641.20" stroke="#000" stroke-width="1.0"/>
<text x="48.00" y="643.80" font-size="7.3" stroke="#1a1a1a" stroke-width="0.12" text-anchor="end">10</text>
<line x1="51.20" y1="613.70" x2="54.60" y2="613.70" stroke="#000" stroke-width="1.0"/>
<text x="48.00" y="616.30" font-size="7.3" stroke="#1a1a1a" stroke-width="0.12" text-anchor="end">15</text>
<line x1="68.90" y1="696.20" x2="68.90" y2="699.20" stroke="#000" stroke-width="1.0"/>
<line x1="93.90" y1="696.20" x2="93.90" y2="699.20" stroke="#000" stroke-width="1.0"/>
<line x1="119.20" y1="696.20" x2="119.20" y2="699.20" stroke="#000" stroke-width="1.0"/>
<line x1="144.20" y1="696.20" x2="144.20" y2="699.20" stroke="#000" stroke-width="1.0"/>
<text transform="translate(21.70,653.50) rotate(-90)" font-size="9.2" font-weight="bold" text-anchor="middle" fill="#111" textLength="59.4" lengthAdjust="spacingAndGlyphs">CCR7 + / CD45RO +</text>
<text transform="translate(33.10,653.50) rotate(-90)" font-size="9.0" font-weight="bold" text-anchor="middle" fill="#111" textLength="74.0" lengthAdjust="spacingAndGlyphs">(% CAR T+ cells in blood)</text>
<path d="M68.8,673.0 L68.8,621.0 L91.4,621.0" stroke="#222" stroke-width="1.1" fill="none"/>
<line x1="63.50" y1="673.00" x2="75.50" y2="673.00" stroke="#222" stroke-width="1.1"/>
<path d="M98.4,621.0 L118.5,621.0 L118.5,666.7" stroke="#222" stroke-width="1.1" fill="none"/>
<line x1="113.20" y1="666.70" x2="124.80" y2="666.70" stroke="#222" stroke-width="1.1"/>
<path d="M98.4,625.2 L143.8,625.2 L143.8,660.3" stroke="#222" stroke-width="1.1" fill="none"/>
<line x1="139.20" y1="660.30" x2="150.60" y2="660.30" stroke="#222" stroke-width="1.1"/>
<text x="80.10" y="621.30" font-size="5.5" stroke="#000" stroke-width="0.12" text-anchor="middle" fill="#000">**</text>
<text x="108.40" y="621.30" font-size="5.5" stroke="#000" stroke-width="0.12" text-anchor="middle" fill="#000">**</text>
<text x="131.60" y="625.10" font-size="5.5" stroke="#000" stroke-width="0.12" text-anchor="middle" fill="#000">*</text>
<circle cx="71.80" cy="680.50" r="1.4" fill="#1f3f85"/>
<circle cx="68.70" cy="682.10" r="1.4" fill="#1f3f85"/>
<circle cx="71.80" cy="686.20" r="1.4" fill="#1f3f85"/>
<circle cx="68.60" cy="687.80" r="1.4" fill="#1f3f85"/>
<circle cx="66.30" cy="688.70" r="1.4" fill="#1f3f85"/>
<circle cx="65.80" cy="692.60" r="1.4" fill="#1f3f85"/>
<circle cx="74.80" cy="692.60" r="1.4" fill="#1f3f85"/>
<circle cx="68.80" cy="691.70" r="1.4" fill="#1f3f85"/>
<circle cx="71.80" cy="692.20" r="1.4" fill="#1f3f85"/>
<circle cx="65.80" cy="694.90" r="1.4" fill="#1f3f85"/>
<circle cx="71.80" cy="694.90" r="1.4" fill="#1f3f85"/>
<circle cx="66.10" cy="696.60" r="1.4" fill="#1f3f85"/>
<circle cx="69.50" cy="696.00" r="1.4" fill="#1f3f85"/>
<circle cx="63.50" cy="690.00" r="1.4" fill="#1f3f85"/>
<line x1="61.80" y1="689.80" x2="75.80" y2="689.80" stroke="#1f3f85" stroke-width="1.0"/>
<line x1="68.80" y1="688.30" x2="68.80" y2="691.40" stroke="#1f3f85" stroke-width="1.0"/>
<line x1="65.80" y1="688.30" x2="71.80" y2="688.30" stroke="#1f3f85" stroke-width="1.0"/>
<line x1="65.80" y1="691.40" x2="71.80" y2="691.40" stroke="#1f3f85" stroke-width="1.0"/>
<circle cx="94.10" cy="625.20" r="1.45" fill="#b0103a"/>
<circle cx="91.00" cy="639.60" r="1.45" fill="#b0103a"/>
<circle cx="97.30" cy="642.80" r="1.45" fill="#b0103a"/>
<circle cx="94.10" cy="662.50" r="1.45" fill="#b0103a"/>
<circle cx="91.00" cy="666.70" r="1.45" fill="#b0103a"/>
<circle cx="97.30" cy="666.70" r="1.45" fill="#b0103a"/>
<circle cx="91.00" cy="685.70" r="1.45" fill="#b0103a"/>
<circle cx="97.30" cy="685.70" r="1.45" fill="#b0103a"/>
<circle cx="91.00" cy="696.30" r="1.45" fill="#b0103a"/>
<circle cx="97.30" cy="696.30" r="1.45" fill="#b0103a"/>
<line x1="87.50" y1="666.70" x2="100.70" y2="666.70" stroke="#b0103a" stroke-width="1.0"/>
<line x1="94.10" y1="659.10" x2="94.10" y2="674.50" stroke="#b0103a" stroke-width="1.0"/>
<line x1="90.90" y1="659.10" x2="97.30" y2="659.10" stroke="#b0103a" stroke-width="1.0"/>
<line x1="90.90" y1="674.50" x2="97.30" y2="674.50" stroke="#b0103a" stroke-width="1.0"/>
<rect x="117.40" y="673.20" width="3.0" height="3.0" fill="none" stroke="#2f5190" stroke-width="0.9"/>
<rect x="117.40" y="684.20" width="3.0" height="3.0" fill="none" stroke="#2f5190" stroke-width="0.9"/>
<rect x="113.70" y="688.50" width="3.0" height="3.0" fill="none" stroke="#2f5190" stroke-width="0.9"/>
<rect x="116.70" y="688.50" width="3.0" height="3.0" fill="none" stroke="#2f5190" stroke-width="0.9"/>
<rect x="119.70" y="688.50" width="3.0" height="3.0" fill="none" stroke="#2f5190" stroke-width="0.9"/>
<rect x="122.70" y="688.50" width="3.0" height="3.0" fill="none" stroke="#2f5190" stroke-width="0.9"/>
<rect x="114.80" y="691.40" width="3.0" height="3.0" fill="none" stroke="#2f5190" stroke-width="0.9"/>
<rect x="117.90" y="691.40" width="3.0" height="3.0" fill="none" stroke="#2f5190" stroke-width="0.9"/>
<rect x="123.80" y="691.40" width="3.0" height="3.0" fill="none" stroke="#2f5190" stroke-width="0.9"/>
<rect x="112.10" y="688.00" width="3.0" height="3.0" fill="none" stroke="#2f5190" stroke-width="0.9"/>
<rect x="121.20" y="694.80" width="3.0" height="3.0" fill="none" stroke="#2f5190" stroke-width="0.9"/>
<line x1="112.90" y1="690.40" x2="124.90" y2="690.40" stroke="#2f5190" stroke-width="1.0"/>
<line x1="118.90" y1="688.60" x2="118.90" y2="692.40" stroke="#2f5190" stroke-width="1.0"/>
<line x1="115.90" y1="688.60" x2="121.90" y2="688.60" stroke="#2f5190" stroke-width="1.0"/>
<line x1="115.90" y1="692.40" x2="121.90" y2="692.40" stroke="#2f5190" stroke-width="1.0"/>
<rect x="142.80" y="667.10" width="3.0" height="3.0" fill="none" stroke="#c0284f" stroke-width="0.9"/>
<rect x="137.20" y="679.50" width="3.0" height="3.0" fill="none" stroke="#c0284f" stroke-width="0.9"/>
<rect x="143.00" y="679.50" width="3.0" height="3.0" fill="none" stroke="#c0284f" stroke-width="0.9"/>
<rect x="148.25" y="680.90" width="3.0" height="3.0" fill="none" stroke="#c0284f" stroke-width="0.9"/>
<rect x="137.20" y="686.20" width="3.0" height="3.0" fill="none" stroke="#c0284f" stroke-width="0.9"/>
<rect x="148.25" y="684.30" width="3.0" height="3.0" fill="none" stroke="#c0284f" stroke-width="0.9"/>
<rect x="148.25" y="688.10" width="3.0" height="3.0" fill="none" stroke="#c0284f" stroke-width="0.9"/>
<rect x="143.00" y="689.10" width="3.0" height="3.0" fill="none" stroke="#c0284f" stroke-width="0.9"/>
<rect x="140.10" y="694.40" width="3.0" height="3.0" fill="none" stroke="#c0284f" stroke-width="0.9"/>
<rect x="145.40" y="694.40" width="3.0" height="3.0" fill="none" stroke="#c0284f" stroke-width="0.9"/>
<line x1="141.30" y1="685.80" x2="147.30" y2="685.80" stroke="#c0284f" stroke-width="1.0"/>
<line x1="144.30" y1="682.60" x2="144.30" y2="689.00" stroke="#c0284f" stroke-width="1.0"/>
<line x1="142.10" y1="682.60" x2="146.50" y2="682.60" stroke="#c0284f" stroke-width="1.0"/>
<line x1="142.10" y1="689.00" x2="146.50" y2="689.00" stroke="#c0284f" stroke-width="1.0"/>
<text transform="translate(69.90,706.20) rotate(-45)" font-size="7.4" text-anchor="end" fill="#1a1a1a" textLength="40.5" lengthAdjust="spacingAndGlyphs" stroke="#1a1a1a" stroke-width="0.12">CAR-Vehicle</text>
<text transform="translate(75.27,711.57) rotate(-45)" font-size="7.4" text-anchor="end" fill="#1a1a1a" textLength="21.0" lengthAdjust="spacingAndGlyphs" stroke="#1a1a1a" stroke-width="0.12">(naive)</text>
<text transform="translate(94.90,706.20) rotate(-45)" font-size="7.4" text-anchor="end" fill="#1a1a1a" textLength="40.0" lengthAdjust="spacingAndGlyphs" stroke="#1a1a1a" stroke-width="0.12">CAR-S-2HG</text>
<text transform="translate(100.27,711.57) rotate(-45)" font-size="7.4" text-anchor="end" fill="#1a1a1a" textLength="21.0" lengthAdjust="spacingAndGlyphs" stroke="#1a1a1a" stroke-width="0.12">(naive)</text>
<text transform="translate(120.20,706.20) rotate(-45)" font-size="7.4" text-anchor="end" fill="#1a1a1a" textLength="40.5" lengthAdjust="spacingAndGlyphs" stroke="#1a1a1a" stroke-width="0.12">CAR-Vehicle</text>
<text transform="translate(125.57,711.57) rotate(-45)" font-size="7.4" text-anchor="end" fill="#1a1a1a" textLength="18.6" lengthAdjust="spacingAndGlyphs" stroke="#1a1a1a" stroke-width="0.12">(total)</text>
<text transform="translate(145.20,706.20) rotate(-45)" font-size="7.4" text-anchor="end" fill="#1a1a1a" textLength="40.0" lengthAdjust="spacingAndGlyphs" stroke="#1a1a1a" stroke-width="0.12">CAR-S-2HG</text>
<text transform="translate(150.57,711.57) rotate(-45)" font-size="7.4" text-anchor="end" fill="#1a1a1a" textLength="18.6" lengthAdjust="spacingAndGlyphs" stroke="#1a1a1a" stroke-width="0.12">(total)</text>
<text x="165.60" y="424.20" font-size="12.5" fill="#000" font-weight="bold">F</text>
<path d="M261.58,434.80 L261.58,506.56 L274.39,506.56 L274.39,554.40" stroke="#c97b2b" stroke-width="1.4" fill="none" stroke-linejoin="miter"/>
<path d="M261.58,434.80 L261.58,494.60 L274.39,494.60 L274.39,514.57 L278.66,514.57 L278.66,554.40" stroke="#65aa35" stroke-width="1.4" fill="none"/>
<path d="M227.40,434.80 L261.58,434.80 L261.58,506.56 L274.39,506.56 L274.39,542.44 L278.66,542.44 L278.66,554.40" stroke="#23427f" stroke-width="1.4" fill="none" stroke-dasharray="3,3"/>
<path d="M261.58,434.80 L261.58,470.68 L274.39,470.68 L274.39,482.64 L278.66,482.64 L278.66,494.60 L376.92,494.60" stroke="#a6002c" stroke-width="1.5" fill="none" stroke-dasharray="3.2,2.4"/>
<line x1="261.58" y1="434.80" x2="376.92" y2="434.80" stroke="#a6002c" stroke-width="1.5"/>
<path d="M227.40,434.80 L261.58,434.80 L261.58,478.33 L274.39,478.33 L274.39,510.87 L278.66,510.87 L278.66,521.75 L376.92,521.75" stroke="#23427f" stroke-width="1.5" fill="none"/>
<line x1="227.40" y1="431.50" x2="227.40" y2="555.00" stroke="#000" stroke-width="1.3"/>
<line x1="224.00" y1="554.40" x2="401.50" y2="554.40" stroke="#000" stroke-width="1.3"/>
<line x1="223.90" y1="554.40" x2="227.40" y2="554.40" stroke="#000" stroke-width="1.0"/>
<text x="220.40" y="556.80" font-size="7.0" stroke="#1a1a1a" stroke-width="0.12" text-anchor="end">0</text>
<line x1="225.40" y1="548.42" x2="227.40" y2="548.42" stroke="#000" stroke-width="0.9"/>
<line x1="225.40" y1="542.44" x2="227.40" y2="542.44" stroke="#000" stroke-width="0.9"/>
<line x1="225.40" y1="536.46" x2="227.40" y2="536.46" stroke="#000" stroke-width="0.9"/>
<line x1="225.40" y1="530.48" x2="227.40" y2="530.48" stroke="#000" stroke-width="0.9"/>
<line x1="225.40" y1="524.50" x2="227.40" y2="524.50" stroke="#000" stroke-width="0.9"/>
<line x1="225.40" y1="518.52" x2="227.40" y2="518.52" stroke="#000" stroke-width="0.9"/>
<line x1="225.40" y1="512.54" x2="227.40" y2="512.54" stroke="#000" stroke-width="0.9"/>
<line x1="225.40" y1="506.56" x2="227.40" y2="506.56" stroke="#000" stroke-width="0.9"/>
<line x1="225.40" y1="500.58" x2="227.40" y2="500.58" stroke="#000" stroke-width="0.9"/>
<line x1="223.90" y1="494.60" x2="227.40" y2="494.60" stroke="#000" stroke-width="1.0"/>
<text x="220.40" y="497.00" font-size="7.0" stroke="#1a1a1a" stroke-width="0.12" text-anchor="end">50</text>
<line x1="225.40" y1="488.62" x2="227.40" y2="488.62" stroke="#000" stroke-width="0.9"/>
<line x1="225.40" y1="482.64" x2="227.40" y2="482.64" stroke="#000" stroke-width="0.9"/>
<line x1="225.40" y1="476.66" x2="227.40" y2="476.66" stroke="#000" stroke-width="0.9"/>
<line x1="225.40" y1="470.68" x2="227.40" y2="470.68" stroke="#000" stroke-width="0.9"/>
<line x1="225.40" y1="464.70" x2="227.40" y2="464.70" stroke="#000" stroke-width="0.9"/>
<line x1="225.40" y1="458.72" x2="227.40" y2="458.72" stroke="#000" stroke-width="0.9"/>
<line x1="225.40" y1="452.74" x2="227.40" y2="452.74" stroke="#000" stroke-width="0.9"/>
<line x1="225.40" y1="446.76" x2="227.40" y2="446.76" stroke="#000" stroke-width="0.9"/>
<line x1="225.40" y1="440.78" x2="227.40" y2="440.78" stroke="#000" stroke-width="0.9"/>
<line x1="223.90" y1="434.80" x2="227.40" y2="434.80" stroke="#000" stroke-width="1.0"/>
<text x="220.40" y="437.20" font-size="7.0" stroke="#1a1a1a" stroke-width="0.12" text-anchor="end">100</text>
<line x1="227.40" y1="554.40" x2="227.40" y2="557.60" stroke="#000" stroke-width="1.0"/>
<text x="227.40" y="567.20" font-size="7.0" stroke="#1a1a1a" stroke-width="0.12" text-anchor="middle">0</text>
<line x1="248.76" y1="554.40" x2="248.76" y2="557.60" stroke="#000" stroke-width="1.0"/>
<text x="248.76" y="567.20" font-size="7.0" stroke="#1a1a1a" stroke-width="0.12" text-anchor="middle">5</text>
<line x1="270.12" y1="554.40" x2="270.12" y2="557.60" stroke="#000" stroke-width="1.0"/>
<text x="270.12" y="567.20" font-size="7.0" stroke="#1a1a1a" stroke-width="0.12" text-anchor="middle">10</text>
<line x1="291.48" y1="554.40" x2="291.48" y2="557.60" stroke="#000" stroke-width="1.0"/>
<text x="291.48" y="567.20" font-size="7.0" stroke="#1a1a1a" stroke-width="0.12" text-anchor="middle">15</text>
<line x1="312.84" y1="554.40" x2="312.84" y2="557.60" stroke="#000" stroke-width="1.0"/>
<text x="312.84" y="567.20" font-size="7.0" stroke="#1a1a1a" stroke-width="0.12" text-anchor="middle">20</text>
<line x1="334.20" y1="554.40" x2="334.20" y2="557.60" stroke="#000" stroke-width="1.0"/>
<text x="334.20" y="567.20" font-size="7.0" stroke="#1a1a1a" stroke-width="0.12" text-anchor="middle">25</text>
<line x1="355.56" y1="554.40" x2="355.56" y2="557.60" stroke="#000" stroke-width="1.0"/>
<text x="355.56" y="567.20" font-size="7.0" stroke="#1a1a1a" stroke-width="0.12" text-anchor="middle">30</text>
<line x1="376.92" y1="554.40" x2="376.92" y2="557.60" stroke="#000" stroke-width="1.0"/>
<text x="376.92" y="567.20" font-size="7.0" stroke="#1a1a1a" stroke-width="0.12" text-anchor="middle">35</text>
<line x1="398.28" y1="554.40" x2="398.28" y2="557.60" stroke="#000" stroke-width="1.0"/>
<text x="398.28" y="567.20" font-size="7.0" stroke="#1a1a1a" stroke-width="0.12" text-anchor="middle">40</text>
<text x="314.50" y="580.20" font-size="9.0" text-anchor="middle" fill="#111" font-weight="bold" textLength="41.80" lengthAdjust="spacingAndGlyphs">Days post ACT</text>
<text transform="translate(201.5,493.7) rotate(-90)" font-size="8.6" text-anchor="middle" fill="#111" textLength="86.2" lengthAdjust="spacingAndGlyphs" stroke="#111" stroke-width="0.12">% survival (by 1 x10<tspan font-size="5" dy="-3">9</tspan><tspan dy="3"> cut-off)</tspan></text>
<line x1="390.90" y1="438.60" x2="400.30" y2="438.60" stroke="#23427f" stroke-width="1.35"/>
<text x="403.90" y="440.70" font-size="6.3" stroke="#2a2a2a" stroke-width="0.12" fill="#2a2a2a" textLength="50.20" lengthAdjust="spacingAndGlyphs">CAR-Vehicle (naive)</text>
<line x1="390.90" y1="448.90" x2="400.30" y2="448.90" stroke="#a6002c" stroke-width="1.35"/>
<text x="403.90" y="451.00" font-size="6.3" stroke="#2a2a2a" stroke-width="0.12" fill="#2a2a2a" textLength="49.90" lengthAdjust="spacingAndGlyphs">CAR-S-2HG (naive)</text>
<line x1="390.90" y1="459.20" x2="400.30" y2="459.20" stroke="#23427f" stroke-width="1.35" stroke-dasharray="3.0,2.6"/>
<text x="403.90" y="461.30" font-size="6.3" stroke="#2a2a2a" stroke-width="0.12" fill="#2a2a2a" textLength="47.50" lengthAdjust="spacingAndGlyphs">CAR-Vehicle (total)</text>
<line x1="390.90" y1="469.50" x2="400.30" y2="469.50" stroke="#a6002c" stroke-width="1.35" stroke-dasharray="3.0,2.6"/>
<text x="403.90" y="471.60" font-size="6.3" stroke="#2a2a2a" stroke-width="0.12" fill="#2a2a2a" textLength="47.50" lengthAdjust="spacingAndGlyphs">CAR-S-2HG (total)</text>
<line x1="390.90" y1="479.80" x2="400.30" y2="479.80" stroke="#65aa35" stroke-width="1.35"/>
<text x="403.90" y="481.90" font-size="6.3" stroke="#2a2a2a" stroke-width="0.12" fill="#2a2a2a" textLength="17.80" lengthAdjust="spacingAndGlyphs">tEGFR</text>
<line x1="390.90" y1="490.10" x2="400.30" y2="490.10" stroke="#c97b2b" stroke-width="1.35"/>
<text x="403.90" y="492.20" font-size="6.3" stroke="#2a2a2a" stroke-width="0.12" fill="#2a2a2a" textLength="11.80" lengthAdjust="spacingAndGlyphs">PBS</text>
<path d="M460.00,439.20 L462.60,439.20 L462.60,449.20 L460.00,449.20" stroke="#111" stroke-width="1.1" fill="none"/>
<path d="M463.90,448.80 L466.50,448.80 L466.50,458.90 L463.90,458.90" stroke="#111" stroke-width="1.1" fill="none"/>
<path d="M477.00,448.80 L479.60,448.80 L479.60,469.40 L477.00,469.40" stroke="#111" stroke-width="1.1" fill="none"/>
<path d="M486.10,448.80 L488.70,448.80 L488.70,480.00 L486.10,480.00" stroke="#111" stroke-width="1.1" fill="none"/>
<path d="M498.90,448.80 L501.50,448.80 L501.50,490.30 L498.90,490.30" stroke="#111" stroke-width="1.1" fill="none"/>
<text x="464.10" y="444.60" font-size="5.5" stroke="#000" stroke-width="0.12" fill="#000" textLength="6.00" lengthAdjust="spacingAndGlyphs">***</text>
<text x="467.50" y="453.00" font-size="5.5" stroke="#000" stroke-width="0.12" fill="#000" textLength="8.60" lengthAdjust="spacingAndGlyphs">****</text>
<text x="481.00" y="456.00" font-size="5.5" stroke="#000" stroke-width="0.12" fill="#000" textLength="4.00" lengthAdjust="spacingAndGlyphs">**</text>
<text x="489.70" y="459.30" font-size="5.5" stroke="#000" stroke-width="0.12" fill="#000" textLength="8.00" lengthAdjust="spacingAndGlyphs">****</text>
<text x="502.20" y="462.70" font-size="5.5" stroke="#000" stroke-width="0.12" fill="#000" textLength="8.00" lengthAdjust="spacingAndGlyphs">****</text>
</svg>
</body></html>
